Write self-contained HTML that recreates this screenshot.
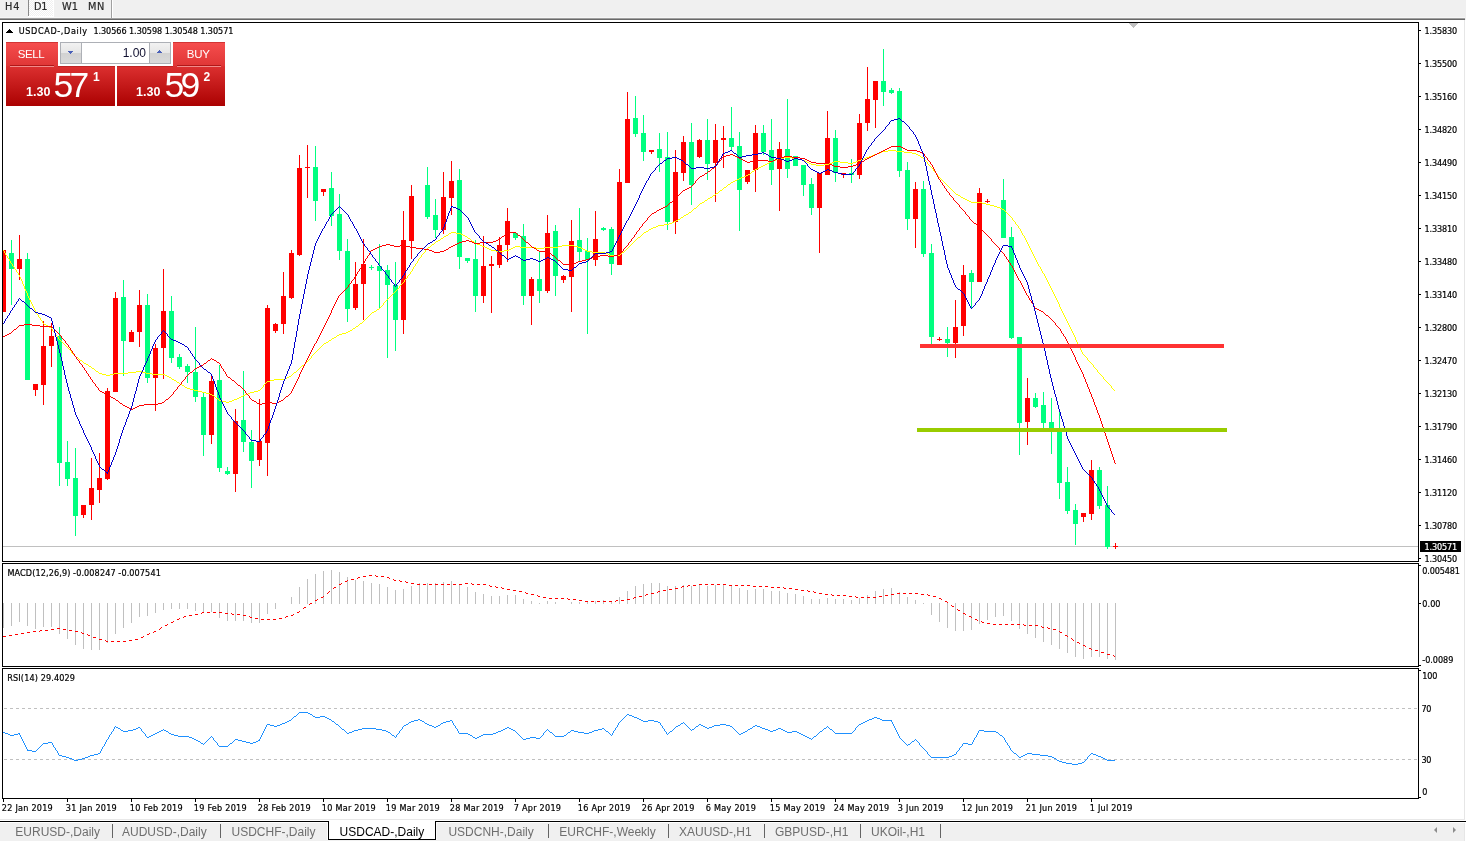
<!DOCTYPE html><html><head><meta charset="utf-8"><title>USDCAD Daily</title><style>

html,body{margin:0;padding:0}
body{width:1466px;height:842px;overflow:hidden;background:#fff;position:relative;font-family:"Liberation Sans",sans-serif}
.abs{position:absolute}
.t{-webkit-text-stroke:0.2px currentColor;position:absolute;font-family:"DejaVu Sans Condensed","DejaVu Sans","Liberation Sans",sans-serif;font-stretch:condensed;font-size:9px;line-height:10px;color:#000;white-space:nowrap}
.tab{position:absolute;font-size:12px;line-height:14px;color:#6e6e6e;white-space:nowrap;top:825px}
.sep{position:absolute;width:1px;height:14px;top:824px;background:#646464}
svg{position:absolute;left:0;top:0}
.tb{position:absolute;top:2px;font-size:9.5px;line-height:12px;color:#3c3c3c;white-space:nowrap}

</style></head><body>
<div class="abs" style="left:0;top:0;width:1466px;height:17px;background:#f0f0f0"></div>
<div class="abs" style="left:0;top:17px;width:1465px;height:1px;background:#f6f6f6"></div>
<div class="abs" style="left:0;top:18px;width:1465px;height:1px;background:#a0a0a0"></div>
<div class="abs" style="left:0;top:19px;width:1465px;height:1px;background:#696969"></div>
<div class="abs" style="left:1465px;top:17px;width:1px;height:3px;background:#f0f0f0"></div>
<div class="abs" style="left:28px;top:0;width:1px;height:16px;background:#8a8a8a"></div>
<div class="abs" style="left:29px;top:0;width:24px;height:16px;background:repeating-conic-gradient(#ffffff 0% 25%,#f0f0f0 0% 50%) 0 0/2px 2px"></div>
<div class="abs" style="left:53px;top:0;width:1px;height:17px;background:#fff"></div>
<div class="abs" style="left:28px;top:16px;width:25px;height:1px;background:#fff"></div>
<div class="abs" style="left:111px;top:0;width:1px;height:18px;background:#a0a0a0"></div>
<div class="abs" style="left:112px;top:0;width:1px;height:18px;background:#fff"></div>
<div class="abs" style="left:1464px;top:20px;width:1px;height:800px;background:#e6e6e6"></div>
<div class="abs" style="left:0;top:819px;width:1465px;height:1px;background:#e8e8e8"></div>
<div class="abs" style="left:0;top:821px;width:1466px;height:1px;background:#000"></div>
<div class="abs" style="left:0;top:823px;width:1465px;height:18px;background:#f0f0f0"></div>
<div class="abs" style="left:1464px;top:823px;width:1px;height:18px;background:#e6e6e6"></div>
<div class="abs" style="left:327px;top:822px;width:1px;height:18px;background:#fff"></div>
<div class="abs" style="left:436px;top:822px;width:1px;height:18px;background:#fafafa"></div>
<div class="abs" style="left:328px;top:821px;width:108px;height:19px;background:#fff;border:1px solid #000;border-top:none;box-sizing:border-box"></div>
<div class="tab" style="left:15.3px">EURUSD-,Daily</div>
<div class="tab" style="left:122px">AUDUSD-,Daily</div>
<div class="tab" style="left:231.5px">USDCHF-,Daily</div>
<div class="tab" style="left:448.4px">USDCNH-,Daily</div>
<div class="tab" style="left:559.3px">EURCHF-,Weekly</div>
<div class="tab" style="left:679px">XAUUSD-,H1</div>
<div class="tab" style="left:775px">GBPUSD-,H1</div>
<div class="tab" style="left:871px">UKOil-,H1</div>
<div class="tab" style="left:339.6px;color:#000">USDCAD-,Daily</div>
<div class="sep" style="left:112px"></div>
<div class="sep" style="left:220px"></div>
<div class="sep" style="left:548px"></div>
<div class="sep" style="left:668px"></div>
<div class="sep" style="left:764px"></div>
<div class="sep" style="left:860px"></div>
<div class="sep" style="left:940px"></div>
<div class="abs" style="left:1433.5px;top:827px;width:0;height:0;border-top:3px solid transparent;border-bottom:3px solid transparent;border-right:3.5px solid #8c8c8c"></div>
<div class="abs" style="left:1453px;top:827px;width:0;height:0;border-top:3px solid transparent;border-bottom:3px solid transparent;border-left:3.5px solid #8c8c8c"></div>
<svg width="1466" height="842" viewBox="0 0 1466 842" shape-rendering="crispEdges">
<rect x="2" y="22" width="1417" height="1" fill="#000"/>
<rect x="2" y="561" width="1417" height="1" fill="#000"/>
<rect x="2" y="22" width="1" height="540" fill="#000"/>
<rect x="1418" y="22" width="1" height="540" fill="#000"/>
<rect x="2" y="563" width="1417" height="1" fill="#000"/>
<rect x="2" y="666" width="1417" height="1" fill="#000"/>
<rect x="2" y="563" width="1" height="104" fill="#000"/>
<rect x="1418" y="563" width="1" height="104" fill="#000"/>
<rect x="2" y="668" width="1417" height="1" fill="#000"/>
<rect x="2" y="798" width="1417" height="1" fill="#000"/>
<rect x="2" y="668" width="1" height="131" fill="#000"/>
<rect x="1418" y="668" width="1" height="131" fill="#000"/>
<rect x="3" y="546" width="1415" height="1" fill="#c0c0c0"/>
<clipPath id="cm"><rect x="3" y="23" width="1415" height="538"/></clipPath>
<g clip-path="url(#cm)">
<rect x="3" y="250" width="1" height="62" fill="#ff0000"/>
<rect x="1" y="250" width="5" height="62" fill="#ff0000"/>
<rect x="11" y="240" width="1" height="65" fill="#00ff7f"/>
<rect x="9" y="253" width="5" height="16" fill="#00ff7f"/>
<rect x="19" y="235" width="1" height="45" fill="#ff0000"/>
<rect x="17" y="259" width="5" height="10" fill="#ff0000"/>
<rect x="27" y="253" width="1" height="127" fill="#00ff7f"/>
<rect x="25" y="259" width="5" height="121" fill="#00ff7f"/>
<rect x="35" y="384" width="1" height="12" fill="#ff0000"/>
<rect x="33" y="384" width="5" height="6" fill="#ff0000"/>
<rect x="43" y="321" width="1" height="84" fill="#ff0000"/>
<rect x="41" y="346" width="5" height="39" fill="#ff0000"/>
<rect x="51" y="323" width="1" height="44" fill="#ff0000"/>
<rect x="49" y="336" width="5" height="10" fill="#ff0000"/>
<rect x="59" y="327" width="1" height="159" fill="#00ff7f"/>
<rect x="57" y="336" width="5" height="127" fill="#00ff7f"/>
<rect x="67" y="441" width="1" height="45" fill="#00ff7f"/>
<rect x="65" y="462" width="5" height="17" fill="#00ff7f"/>
<rect x="75" y="448" width="1" height="88" fill="#00ff7f"/>
<rect x="73" y="478" width="5" height="38" fill="#00ff7f"/>
<rect x="83" y="505" width="1" height="13" fill="#ff0000"/>
<rect x="81" y="505" width="5" height="10" fill="#ff0000"/>
<rect x="91" y="458" width="1" height="62" fill="#ff0000"/>
<rect x="89" y="488" width="5" height="17" fill="#ff0000"/>
<rect x="99" y="453" width="1" height="50" fill="#ff0000"/>
<rect x="97" y="478" width="5" height="12" fill="#ff0000"/>
<rect x="107" y="388" width="1" height="92" fill="#ff0000"/>
<rect x="105" y="391" width="5" height="88" fill="#ff0000"/>
<rect x="115" y="292" width="1" height="100" fill="#ff0000"/>
<rect x="113" y="298" width="5" height="94" fill="#ff0000"/>
<rect x="123" y="280" width="1" height="96" fill="#00ff7f"/>
<rect x="121" y="297" width="5" height="44" fill="#00ff7f"/>
<rect x="131" y="330" width="1" height="12" fill="#ff0000"/>
<rect x="129" y="332" width="5" height="10" fill="#ff0000"/>
<rect x="139" y="290" width="1" height="57" fill="#ff0000"/>
<rect x="137" y="305" width="5" height="27" fill="#ff0000"/>
<rect x="147" y="294" width="1" height="89" fill="#00ff7f"/>
<rect x="145" y="305" width="5" height="73" fill="#00ff7f"/>
<rect x="155" y="344" width="1" height="67" fill="#ff0000"/>
<rect x="153" y="348" width="5" height="30" fill="#ff0000"/>
<rect x="163" y="269" width="1" height="110" fill="#ff0000"/>
<rect x="161" y="311" width="5" height="37" fill="#ff0000"/>
<rect x="171" y="296" width="1" height="67" fill="#00ff7f"/>
<rect x="169" y="311" width="5" height="47" fill="#00ff7f"/>
<rect x="179" y="354" width="1" height="15" fill="#00ff7f"/>
<rect x="177" y="357" width="5" height="10" fill="#00ff7f"/>
<rect x="187" y="364" width="1" height="19" fill="#00ff7f"/>
<rect x="185" y="366" width="5" height="6" fill="#00ff7f"/>
<rect x="195" y="327" width="1" height="75" fill="#00ff7f"/>
<rect x="193" y="372" width="5" height="25" fill="#00ff7f"/>
<rect x="203" y="393" width="1" height="63" fill="#00ff7f"/>
<rect x="201" y="397" width="5" height="38" fill="#00ff7f"/>
<rect x="211" y="374" width="1" height="70" fill="#ff0000"/>
<rect x="209" y="381" width="5" height="54" fill="#ff0000"/>
<rect x="219" y="365" width="1" height="107" fill="#00ff7f"/>
<rect x="217" y="380" width="5" height="88" fill="#00ff7f"/>
<rect x="227" y="467" width="1" height="8" fill="#00ff7f"/>
<rect x="225" y="471" width="5" height="3" fill="#00ff7f"/>
<rect x="235" y="409" width="1" height="83" fill="#ff0000"/>
<rect x="233" y="421" width="5" height="53" fill="#ff0000"/>
<rect x="243" y="371" width="1" height="81" fill="#00ff7f"/>
<rect x="241" y="420" width="5" height="22" fill="#00ff7f"/>
<rect x="251" y="430" width="1" height="58" fill="#00ff7f"/>
<rect x="249" y="442" width="5" height="19" fill="#00ff7f"/>
<rect x="259" y="399" width="1" height="67" fill="#ff0000"/>
<rect x="257" y="441" width="5" height="19" fill="#ff0000"/>
<rect x="267" y="305" width="1" height="171" fill="#ff0000"/>
<rect x="265" y="308" width="5" height="135" fill="#ff0000"/>
<rect x="275" y="323" width="1" height="10" fill="#ff0000"/>
<rect x="273" y="324" width="5" height="7" fill="#ff0000"/>
<rect x="283" y="272" width="1" height="62" fill="#ff0000"/>
<rect x="281" y="296" width="5" height="28" fill="#ff0000"/>
<rect x="291" y="250" width="1" height="49" fill="#ff0000"/>
<rect x="289" y="253" width="5" height="45" fill="#ff0000"/>
<rect x="299" y="155" width="1" height="101" fill="#ff0000"/>
<rect x="297" y="168" width="5" height="87" fill="#ff0000"/>
<rect x="307" y="145" width="1" height="53" fill="#ff0000"/>
<rect x="305" y="167" width="5" height="1" fill="#ff0000"/>
<rect x="315" y="146" width="1" height="75" fill="#00ff7f"/>
<rect x="313" y="167" width="5" height="34" fill="#00ff7f"/>
<rect x="323" y="189" width="1" height="7" fill="#ff0000"/>
<rect x="321" y="189" width="5" height="3" fill="#ff0000"/>
<rect x="331" y="172" width="1" height="54" fill="#00ff7f"/>
<rect x="329" y="188" width="5" height="28" fill="#00ff7f"/>
<rect x="339" y="194" width="1" height="66" fill="#00ff7f"/>
<rect x="337" y="214" width="5" height="37" fill="#00ff7f"/>
<rect x="347" y="239" width="1" height="83" fill="#00ff7f"/>
<rect x="345" y="251" width="5" height="58" fill="#00ff7f"/>
<rect x="355" y="262" width="1" height="48" fill="#ff0000"/>
<rect x="353" y="284" width="5" height="24" fill="#ff0000"/>
<rect x="363" y="239" width="1" height="81" fill="#ff0000"/>
<rect x="361" y="264" width="5" height="20" fill="#ff0000"/>
<rect x="371" y="265" width="1" height="5" fill="#00ff7f"/>
<rect x="369" y="267" width="5" height="1" fill="#00ff7f"/>
<rect x="379" y="244" width="1" height="64" fill="#00ff7f"/>
<rect x="377" y="266" width="5" height="5" fill="#00ff7f"/>
<rect x="387" y="265" width="1" height="93" fill="#00ff7f"/>
<rect x="385" y="270" width="5" height="15" fill="#00ff7f"/>
<rect x="395" y="262" width="1" height="89" fill="#00ff7f"/>
<rect x="393" y="285" width="5" height="35" fill="#00ff7f"/>
<rect x="403" y="211" width="1" height="123" fill="#ff0000"/>
<rect x="401" y="240" width="5" height="80" fill="#ff0000"/>
<rect x="411" y="185" width="1" height="74" fill="#ff0000"/>
<rect x="409" y="196" width="5" height="45" fill="#ff0000"/>
<rect x="427" y="167" width="1" height="52" fill="#00ff7f"/>
<rect x="425" y="185" width="5" height="32" fill="#00ff7f"/>
<rect x="435" y="199" width="1" height="39" fill="#00ff7f"/>
<rect x="433" y="215" width="5" height="15" fill="#00ff7f"/>
<rect x="443" y="172" width="1" height="62" fill="#ff0000"/>
<rect x="441" y="197" width="5" height="33" fill="#ff0000"/>
<rect x="451" y="161" width="1" height="54" fill="#ff0000"/>
<rect x="449" y="181" width="5" height="17" fill="#ff0000"/>
<rect x="459" y="169" width="1" height="100" fill="#00ff7f"/>
<rect x="457" y="180" width="5" height="77" fill="#00ff7f"/>
<rect x="467" y="258" width="1" height="5" fill="#00ff7f"/>
<rect x="465" y="258" width="5" height="3" fill="#00ff7f"/>
<rect x="475" y="240" width="1" height="72" fill="#00ff7f"/>
<rect x="473" y="259" width="5" height="37" fill="#00ff7f"/>
<rect x="483" y="236" width="1" height="67" fill="#ff0000"/>
<rect x="481" y="266" width="5" height="30" fill="#ff0000"/>
<rect x="491" y="256" width="1" height="57" fill="#ff0000"/>
<rect x="489" y="264" width="5" height="2" fill="#ff0000"/>
<rect x="499" y="237" width="1" height="31" fill="#ff0000"/>
<rect x="497" y="245" width="5" height="20" fill="#ff0000"/>
<rect x="507" y="208" width="1" height="54" fill="#ff0000"/>
<rect x="505" y="221" width="5" height="24" fill="#ff0000"/>
<rect x="515" y="232" width="1" height="8" fill="#00ff7f"/>
<rect x="513" y="233" width="5" height="5" fill="#00ff7f"/>
<rect x="523" y="224" width="1" height="81" fill="#00ff7f"/>
<rect x="521" y="236" width="5" height="60" fill="#00ff7f"/>
<rect x="531" y="277" width="1" height="48" fill="#ff0000"/>
<rect x="529" y="279" width="5" height="17" fill="#ff0000"/>
<rect x="539" y="251" width="1" height="52" fill="#00ff7f"/>
<rect x="537" y="279" width="5" height="12" fill="#00ff7f"/>
<rect x="547" y="215" width="1" height="78" fill="#ff0000"/>
<rect x="545" y="233" width="5" height="58" fill="#ff0000"/>
<rect x="555" y="225" width="1" height="71" fill="#00ff7f"/>
<rect x="553" y="231" width="5" height="45" fill="#00ff7f"/>
<rect x="563" y="275" width="1" height="8" fill="#ff0000"/>
<rect x="561" y="276" width="5" height="4" fill="#ff0000"/>
<rect x="571" y="220" width="1" height="92" fill="#ff0000"/>
<rect x="569" y="241" width="5" height="36" fill="#ff0000"/>
<rect x="579" y="208" width="1" height="53" fill="#00ff7f"/>
<rect x="577" y="240" width="5" height="12" fill="#00ff7f"/>
<rect x="587" y="238" width="1" height="96" fill="#00ff7f"/>
<rect x="585" y="251" width="5" height="9" fill="#00ff7f"/>
<rect x="595" y="211" width="1" height="55" fill="#ff0000"/>
<rect x="593" y="239" width="5" height="21" fill="#ff0000"/>
<rect x="603" y="227" width="1" height="4" fill="#00ff7f"/>
<rect x="601" y="228" width="5" height="2" fill="#00ff7f"/>
<rect x="611" y="227" width="1" height="48" fill="#00ff7f"/>
<rect x="609" y="229" width="5" height="35" fill="#00ff7f"/>
<rect x="619" y="169" width="1" height="96" fill="#ff0000"/>
<rect x="617" y="182" width="5" height="83" fill="#ff0000"/>
<rect x="627" y="92" width="1" height="91" fill="#ff0000"/>
<rect x="625" y="119" width="5" height="64" fill="#ff0000"/>
<rect x="635" y="96" width="1" height="41" fill="#00ff7f"/>
<rect x="633" y="118" width="5" height="16" fill="#00ff7f"/>
<rect x="643" y="115" width="1" height="46" fill="#00ff7f"/>
<rect x="641" y="133" width="5" height="19" fill="#00ff7f"/>
<rect x="651" y="150" width="1" height="4" fill="#ff0000"/>
<rect x="649" y="150" width="5" height="2" fill="#ff0000"/>
<rect x="659" y="133" width="1" height="39" fill="#00ff7f"/>
<rect x="657" y="149" width="5" height="9" fill="#00ff7f"/>
<rect x="667" y="132" width="1" height="98" fill="#00ff7f"/>
<rect x="665" y="157" width="5" height="65" fill="#00ff7f"/>
<rect x="675" y="150" width="1" height="84" fill="#ff0000"/>
<rect x="673" y="172" width="5" height="50" fill="#ff0000"/>
<rect x="683" y="136" width="1" height="45" fill="#ff0000"/>
<rect x="681" y="142" width="5" height="31" fill="#ff0000"/>
<rect x="691" y="123" width="1" height="82" fill="#00ff7f"/>
<rect x="689" y="142" width="5" height="43" fill="#00ff7f"/>
<rect x="699" y="139" width="1" height="19" fill="#ff0000"/>
<rect x="697" y="140" width="5" height="17" fill="#ff0000"/>
<rect x="707" y="119" width="1" height="61" fill="#00ff7f"/>
<rect x="705" y="140" width="5" height="24" fill="#00ff7f"/>
<rect x="715" y="124" width="1" height="78" fill="#ff0000"/>
<rect x="713" y="140" width="5" height="23" fill="#ff0000"/>
<rect x="723" y="126" width="1" height="42" fill="#ff0000"/>
<rect x="721" y="138" width="5" height="2" fill="#ff0000"/>
<rect x="731" y="107" width="1" height="44" fill="#00ff7f"/>
<rect x="729" y="138" width="5" height="9" fill="#00ff7f"/>
<rect x="739" y="132" width="1" height="99" fill="#00ff7f"/>
<rect x="737" y="146" width="5" height="44" fill="#00ff7f"/>
<rect x="747" y="170" width="1" height="14" fill="#ff0000"/>
<rect x="745" y="170" width="5" height="12" fill="#ff0000"/>
<rect x="755" y="125" width="1" height="67" fill="#ff0000"/>
<rect x="753" y="133" width="5" height="37" fill="#ff0000"/>
<rect x="763" y="125" width="1" height="30" fill="#00ff7f"/>
<rect x="761" y="133" width="5" height="19" fill="#00ff7f"/>
<rect x="771" y="119" width="1" height="66" fill="#00ff7f"/>
<rect x="769" y="150" width="5" height="20" fill="#00ff7f"/>
<rect x="779" y="142" width="1" height="69" fill="#ff0000"/>
<rect x="777" y="149" width="5" height="20" fill="#ff0000"/>
<rect x="787" y="99" width="1" height="79" fill="#00ff7f"/>
<rect x="785" y="149" width="5" height="20" fill="#00ff7f"/>
<rect x="795" y="156" width="1" height="10" fill="#00ff7f"/>
<rect x="793" y="156" width="5" height="10" fill="#00ff7f"/>
<rect x="803" y="165" width="1" height="31" fill="#00ff7f"/>
<rect x="801" y="165" width="5" height="20" fill="#00ff7f"/>
<rect x="811" y="178" width="1" height="37" fill="#00ff7f"/>
<rect x="809" y="184" width="5" height="24" fill="#00ff7f"/>
<rect x="819" y="173" width="1" height="80" fill="#ff0000"/>
<rect x="817" y="173" width="5" height="35" fill="#ff0000"/>
<rect x="827" y="111" width="1" height="64" fill="#ff0000"/>
<rect x="825" y="138" width="5" height="37" fill="#ff0000"/>
<rect x="835" y="130" width="1" height="52" fill="#00ff7f"/>
<rect x="833" y="138" width="5" height="35" fill="#00ff7f"/>
<rect x="843" y="173" width="1" height="5" fill="#ff0000"/>
<rect x="841" y="173" width="5" height="2" fill="#ff0000"/>
<rect x="851" y="159" width="1" height="24" fill="#00ff7f"/>
<rect x="849" y="173" width="5" height="2" fill="#00ff7f"/>
<rect x="859" y="114" width="1" height="65" fill="#ff0000"/>
<rect x="857" y="123" width="5" height="52" fill="#ff0000"/>
<rect x="867" y="67" width="1" height="64" fill="#ff0000"/>
<rect x="865" y="99" width="5" height="24" fill="#ff0000"/>
<rect x="875" y="81" width="1" height="47" fill="#ff0000"/>
<rect x="873" y="81" width="5" height="19" fill="#ff0000"/>
<rect x="883" y="49" width="1" height="57" fill="#00ff7f"/>
<rect x="881" y="81" width="5" height="11" fill="#00ff7f"/>
<rect x="891" y="88" width="1" height="6" fill="#00ff7f"/>
<rect x="889" y="90" width="5" height="3" fill="#00ff7f"/>
<rect x="899" y="88" width="1" height="89" fill="#00ff7f"/>
<rect x="897" y="91" width="5" height="80" fill="#00ff7f"/>
<rect x="907" y="162" width="1" height="68" fill="#00ff7f"/>
<rect x="905" y="170" width="5" height="49" fill="#00ff7f"/>
<rect x="915" y="182" width="1" height="66" fill="#ff0000"/>
<rect x="913" y="189" width="5" height="30" fill="#ff0000"/>
<rect x="923" y="181" width="1" height="76" fill="#00ff7f"/>
<rect x="921" y="189" width="5" height="65" fill="#00ff7f"/>
<rect x="931" y="244" width="1" height="100" fill="#00ff7f"/>
<rect x="929" y="253" width="5" height="84" fill="#00ff7f"/>
<rect x="939" y="337" width="1" height="4" fill="#ff0000"/>
<rect x="937" y="339" width="5" height="1" fill="#ff0000"/>
<rect x="947" y="327" width="1" height="30" fill="#00ff7f"/>
<rect x="945" y="339" width="5" height="4" fill="#00ff7f"/>
<rect x="955" y="300" width="1" height="58" fill="#ff0000"/>
<rect x="953" y="327" width="5" height="16" fill="#ff0000"/>
<rect x="963" y="265" width="1" height="71" fill="#ff0000"/>
<rect x="961" y="275" width="5" height="51" fill="#ff0000"/>
<rect x="971" y="270" width="1" height="38" fill="#00ff7f"/>
<rect x="969" y="273" width="5" height="9" fill="#00ff7f"/>
<rect x="979" y="188" width="1" height="94" fill="#ff0000"/>
<rect x="977" y="193" width="5" height="89" fill="#ff0000"/>
<rect x="987" y="199" width="1" height="4" fill="#ff0000"/>
<rect x="985" y="201" width="5" height="1" fill="#ff0000"/>
<rect x="1003" y="179" width="1" height="59" fill="#00ff7f"/>
<rect x="1001" y="200" width="5" height="38" fill="#00ff7f"/>
<rect x="1011" y="227" width="1" height="112" fill="#00ff7f"/>
<rect x="1009" y="237" width="5" height="101" fill="#00ff7f"/>
<rect x="1019" y="337" width="1" height="118" fill="#00ff7f"/>
<rect x="1017" y="337" width="5" height="86" fill="#00ff7f"/>
<rect x="1027" y="378" width="1" height="67" fill="#ff0000"/>
<rect x="1025" y="398" width="5" height="24" fill="#ff0000"/>
<rect x="1035" y="393" width="1" height="15" fill="#00ff7f"/>
<rect x="1033" y="398" width="5" height="9" fill="#00ff7f"/>
<rect x="1043" y="392" width="1" height="36" fill="#00ff7f"/>
<rect x="1041" y="405" width="5" height="18" fill="#00ff7f"/>
<rect x="1051" y="398" width="1" height="56" fill="#00ff7f"/>
<rect x="1049" y="422" width="5" height="8" fill="#00ff7f"/>
<rect x="1059" y="411" width="1" height="88" fill="#00ff7f"/>
<rect x="1057" y="430" width="5" height="53" fill="#00ff7f"/>
<rect x="1067" y="467" width="1" height="47" fill="#00ff7f"/>
<rect x="1065" y="482" width="5" height="29" fill="#00ff7f"/>
<rect x="1075" y="504" width="1" height="41" fill="#00ff7f"/>
<rect x="1073" y="510" width="5" height="14" fill="#00ff7f"/>
<rect x="1083" y="513" width="1" height="9" fill="#ff0000"/>
<rect x="1081" y="513" width="5" height="4" fill="#ff0000"/>
<rect x="1091" y="460" width="1" height="60" fill="#ff0000"/>
<rect x="1089" y="470" width="5" height="44" fill="#ff0000"/>
<rect x="1099" y="467" width="1" height="42" fill="#00ff7f"/>
<rect x="1097" y="470" width="5" height="36" fill="#00ff7f"/>
<rect x="1107" y="486" width="1" height="63" fill="#00ff7f"/>
<rect x="1105" y="505" width="5" height="42" fill="#00ff7f"/>
<rect x="1115" y="543" width="1" height="6" fill="#ff0000"/>
<rect x="1113" y="546" width="5" height="1" fill="#ff0000"/>
<path d="M888 150h8v1h-8zM882 151h6v1h-6zM896 151h8v1h-8zM880 152h2v1h-2zM904 152h8v1h-8zM877 153h3v1h-3zM912 153h4v1h-4zM874 154h3v1h-3zM916 154h2v1h-2zM872 155h2v1h-2zM918 155h2v1h-2zM869 156h3v1h-3zM920 156h1v1h-1zM784 157h8v1h-8zM866 157h3v1h-3zM921 157h2v1h-2zM778 158h6v1h-6zM792 158h6v1h-6zM864 158h2v1h-2zM923 158h1v1h-1zM776 159h2v1h-2zM798 159h4v1h-4zM861 159h3v1h-3zM924 159h1v1h-1zM773 160h3v1h-3zM802 160h3v1h-3zM858 160h3v1h-3zM925 160h1v1h-1zM771 161h2v1h-2zM805 161h2v1h-2zM834 161h6v1h-6zM856 161h2v1h-2zM926 161h1v1h-1zM769 162h2v1h-2zM807 162h2v1h-2zM832 162h2v1h-2zM840 162h8v1h-8zM853 162h3v1h-3zM927 162h1v2h-1zM767 163h2v1h-2zM809 163h2v1h-2zM829 163h3v1h-3zM848 163h5v1h-5zM765 164h2v1h-2zM811 164h5v1h-5zM824 164h5v1h-5zM928 164h1v1h-1zM763 165h2v1h-2zM816 165h8v1h-8zM929 165h1v1h-1zM761 166h2v1h-2zM930 166h1v1h-1zM759 167h2v1h-2zM931 167h1v1h-1zM757 168h2v1h-2zM932 168h1v1h-1zM755 169h2v1h-2zM933 169h1v2h-1zM754 170h1v1h-1zM752 171h2v1h-2zM934 171h1v1h-1zM751 172h1v1h-1zM935 172h1v1h-1zM750 173h1v1h-1zM936 173h1v1h-1zM748 174h2v1h-2zM937 174h1v2h-1zM746 175h2v1h-2zM744 176h2v1h-2zM938 176h1v1h-1zM741 177h3v1h-3zM939 177h1v1h-1zM739 178h2v1h-2zM940 178h1v1h-1zM737 179h2v1h-2zM941 179h1v1h-1zM735 180h2v1h-2zM942 180h1v1h-1zM733 181h2v1h-2zM943 181h1v1h-1zM731 182h2v1h-2zM944 182h1v1h-1zM730 183h1v1h-1zM945 183h1v1h-1zM728 184h2v1h-2zM946 184h1v1h-1zM727 185h1v1h-1zM947 185h1v1h-1zM726 186h1v1h-1zM948 186h1v1h-1zM724 187h2v1h-2zM949 187h1v1h-1zM723 188h1v1h-1zM950 188h1v1h-1zM722 189h1v1h-1zM951 189h1v1h-1zM720 190h2v1h-2zM952 190h1v1h-1zM719 191h1v1h-1zM953 191h1v1h-1zM718 192h1v1h-1zM954 192h1v1h-1zM716 193h2v1h-2zM955 193h1v1h-1zM715 194h1v1h-1zM956 194h2v1h-2zM713 195h2v1h-2zM958 195h2v1h-2zM712 196h1v1h-1zM960 196h1v1h-1zM710 197h2v1h-2zM961 197h2v1h-2zM708 198h2v1h-2zM963 198h2v1h-2zM707 199h1v1h-1zM965 199h2v1h-2zM705 200h2v1h-2zM967 200h2v1h-2zM704 201h1v1h-1zM969 201h2v1h-2zM702 202h2v1h-2zM971 202h11v1h-11zM700 203h2v1h-2zM982 203h4v1h-4zM699 204h1v1h-1zM986 204h4v1h-4zM698 205h1v1h-1zM990 205h4v1h-4zM697 206h1v1h-1zM994 206h3v1h-3zM696 207h1v1h-1zM997 207h3v1h-3zM694 208h2v1h-2zM1000 208h2v1h-2zM693 209h1v1h-1zM1002 209h2v1h-2zM692 210h1v1h-1zM1004 210h1v1h-1zM691 211h1v1h-1zM1005 211h1v1h-1zM689 212h2v1h-2zM1006 212h1v1h-1zM688 213h1v1h-1zM1007 213h1v1h-1zM686 214h2v1h-2zM1008 214h1v1h-1zM684 215h2v1h-2zM1009 215h1v1h-1zM683 216h1v1h-1zM1010 216h1v1h-1zM681 217h2v1h-2zM1011 217h1v1h-1zM680 218h1v1h-1zM1012 218h1v2h-1zM678 219h2v1h-2zM676 220h2v1h-2zM1013 220h1v1h-1zM674 221h2v1h-2zM1014 221h1v1h-1zM672 222h2v1h-2zM1015 222h1v2h-1zM669 223h3v1h-3zM664 224h5v1h-5zM1016 224h1v1h-1zM658 225h6v1h-6zM1017 225h1v1h-1zM656 226h2v1h-2zM1018 226h1v2h-1zM653 227h3v1h-3zM651 228h2v1h-2zM1019 228h1v1h-1zM649 229h2v1h-2zM1020 229h1v2h-1zM648 230h1v1h-1zM646 231h2v1h-2zM1021 231h1v2h-1zM451 232h5v1h-5zM644 232h2v1h-2zM449 233h2v1h-2zM456 233h5v1h-5zM643 233h1v1h-1zM1022 233h1v2h-1zM448 234h1v1h-1zM461 234h2v1h-2zM642 234h1v1h-1zM446 235h2v1h-2zM463 235h2v1h-2zM641 235h1v1h-1zM1023 235h1v1h-1zM444 236h2v1h-2zM465 236h2v1h-2zM640 236h1v1h-1zM1024 236h1v2h-1zM443 237h1v1h-1zM467 237h1v1h-1zM638 237h2v1h-2zM441 238h2v1h-2zM468 238h2v1h-2zM637 238h1v1h-1zM1025 238h1v2h-1zM440 239h1v1h-1zM470 239h1v1h-1zM636 239h1v1h-1zM438 240h2v1h-2zM471 240h1v1h-1zM635 240h1v1h-1zM1026 240h1v2h-1zM436 241h2v1h-2zM472 241h2v1h-2zM634 241h1v1h-1zM435 242h1v1h-1zM474 242h1v1h-1zM633 242h1v1h-1zM1027 242h1v2h-1zM434 243h1v1h-1zM475 243h2v1h-2zM632 243h1v1h-1zM432 244h2v1h-2zM477 244h3v1h-3zM631 244h1v1h-1zM1028 244h1v2h-1zM431 245h1v1h-1zM480 245h2v1h-2zM562 245h12v1h-12zM630 245h1v1h-1zM430 246h1v1h-1zM482 246h3v1h-3zM515 246h5v1h-5zM558 246h4v1h-4zM574 246h4v1h-4zM629 246h1v1h-1zM1029 246h1v2h-1zM428 247h2v1h-2zM485 247h2v1h-2zM513 247h2v1h-2zM520 247h16v1h-16zM544 247h14v1h-14zM578 247h3v1h-3zM628 247h1v1h-1zM427 248h1v1h-1zM487 248h2v1h-2zM511 248h2v1h-2zM536 248h8v1h-8zM581 248h2v1h-2zM627 248h1v1h-1zM1030 248h1v2h-1zM426 249h1v1h-1zM489 249h2v1h-2zM509 249h2v1h-2zM583 249h2v1h-2zM626 249h1v1h-1zM3 250h1v1h-1zM425 250h1v2h-1zM491 250h5v1h-5zM504 250h5v1h-5zM585 250h2v1h-2zM625 250h1v1h-1zM1031 250h1v2h-1zM4 251h1v2h-1zM496 251h8v1h-8zM587 251h5v1h-5zM624 251h1v1h-1zM424 252h1v1h-1zM592 252h13v1h-13zM622 252h2v1h-2zM1032 252h1v2h-1zM5 253h1v2h-1zM423 253h1v1h-1zM605 253h3v1h-3zM621 253h1v1h-1zM422 254h1v1h-1zM608 254h2v1h-2zM620 254h1v1h-1zM1033 254h1v2h-1zM6 255h1v1h-1zM421 255h1v2h-1zM610 255h10v1h-10zM7 256h1v2h-1zM1034 256h1v2h-1zM420 257h1v1h-1zM8 258h1v1h-1zM419 258h1v1h-1zM1035 258h1v2h-1zM9 259h1v2h-1zM418 259h1v2h-1zM1036 260h1v2h-1zM10 261h1v2h-1zM417 261h1v2h-1zM1037 262h1v2h-1zM11 263h1v1h-1zM416 263h1v1h-1zM12 264h1v2h-1zM415 264h1v2h-1zM1038 264h1v2h-1zM13 266h1v1h-1zM414 266h1v1h-1zM1039 266h1v1h-1zM14 267h1v2h-1zM413 267h1v2h-1zM1040 267h1v2h-1zM15 269h1v1h-1zM412 269h1v2h-1zM1041 269h1v2h-1zM16 270h1v2h-1zM411 271h1v1h-1zM1042 271h1v2h-1zM17 272h1v1h-1zM410 272h1v2h-1zM18 273h1v2h-1zM1043 273h1v1h-1zM409 274h1v1h-1zM1044 274h1v2h-1zM19 275h1v2h-1zM408 275h1v1h-1zM407 276h1v2h-1zM1045 276h1v2h-1zM20 277h1v2h-1zM406 278h1v1h-1zM1046 278h1v2h-1zM21 279h1v2h-1zM405 279h1v1h-1zM404 280h1v2h-1zM1047 280h1v2h-1zM22 281h1v3h-1zM403 282h1v1h-1zM1048 282h1v2h-1zM402 283h1v1h-1zM23 284h1v2h-1zM401 284h1v1h-1zM1049 284h1v2h-1zM400 285h1v1h-1zM24 286h1v3h-1zM399 286h1v2h-1zM1050 286h1v2h-1zM398 288h1v1h-1zM1051 288h1v2h-1zM25 289h1v2h-1zM397 289h1v1h-1zM396 290h1v1h-1zM1052 290h1v2h-1zM26 291h1v2h-1zM395 291h1v1h-1zM394 292h1v1h-1zM1053 292h1v2h-1zM27 293h1v3h-1zM393 293h1v1h-1zM392 294h1v1h-1zM1054 294h1v2h-1zM391 295h1v1h-1zM28 296h1v2h-1zM390 296h1v1h-1zM1055 296h1v2h-1zM389 297h1v1h-1zM29 298h1v2h-1zM388 298h1v1h-1zM1056 298h1v2h-1zM387 299h1v1h-1zM30 300h1v2h-1zM386 300h1v1h-1zM1057 300h1v2h-1zM385 301h1v1h-1zM31 302h1v2h-1zM384 302h1v1h-1zM1058 302h1v2h-1zM383 303h1v2h-1zM32 304h1v2h-1zM1059 304h1v3h-1zM382 305h1v1h-1zM33 306h1v2h-1zM381 306h1v1h-1zM380 307h1v1h-1zM1060 307h1v2h-1zM34 308h1v2h-1zM379 308h1v1h-1zM377 309h2v1h-2zM1061 309h1v2h-1zM35 310h1v2h-1zM376 310h1v1h-1zM374 311h2v1h-2zM1062 311h1v2h-1zM36 312h1v2h-1zM372 312h2v1h-2zM371 313h1v1h-1zM1063 313h1v2h-1zM37 314h1v1h-1zM370 314h1v1h-1zM38 315h1v2h-1zM369 315h1v1h-1zM1064 315h1v2h-1zM368 316h1v1h-1zM39 317h1v1h-1zM367 317h1v1h-1zM1065 317h1v2h-1zM40 318h1v2h-1zM366 318h1v1h-1zM365 319h1v1h-1zM1066 319h1v2h-1zM41 320h1v1h-1zM364 320h1v1h-1zM42 321h1v2h-1zM363 321h1v1h-1zM1067 321h1v2h-1zM362 322h1v1h-1zM43 323h1v1h-1zM360 323h2v1h-2zM1068 323h1v2h-1zM44 324h2v1h-2zM359 324h1v1h-1zM46 325h2v1h-2zM358 325h1v1h-1zM1069 325h1v2h-1zM48 326h1v1h-1zM356 326h2v1h-2zM49 327h2v1h-2zM355 327h1v1h-1zM1070 327h1v2h-1zM51 328h1v1h-1zM353 328h2v1h-2zM52 329h1v2h-1zM352 329h1v1h-1zM1071 329h1v2h-1zM350 330h2v1h-2zM53 331h1v1h-1zM348 331h2v1h-2zM1072 331h1v2h-1zM54 332h1v1h-1zM346 332h2v1h-2zM55 333h1v2h-1zM342 333h4v1h-4zM1073 333h1v2h-1zM339 334h3v1h-3zM56 335h1v1h-1zM337 335h2v1h-2zM1074 335h1v2h-1zM57 336h1v1h-1zM336 336h1v1h-1zM58 337h1v2h-1zM334 337h2v1h-2zM1075 337h1v3h-1zM332 338h2v1h-2zM59 339h1v1h-1zM331 339h1v1h-1zM60 340h1v1h-1zM329 340h2v1h-2zM1076 340h1v2h-1zM61 341h1v1h-1zM328 341h1v1h-1zM62 342h1v1h-1zM326 342h2v1h-2zM1077 342h1v2h-1zM63 343h1v1h-1zM324 343h2v1h-2zM64 344h1v1h-1zM323 344h1v1h-1zM1078 344h1v2h-1zM65 345h1v1h-1zM322 345h1v1h-1zM66 346h1v1h-1zM321 346h1v1h-1zM1079 346h1v2h-1zM67 347h1v1h-1zM320 347h1v1h-1zM68 348h1v1h-1zM319 348h1v1h-1zM1080 348h1v2h-1zM69 349h1v1h-1zM318 349h1v1h-1zM70 350h1v1h-1zM317 350h1v1h-1zM1081 350h1v2h-1zM71 351h1v2h-1zM316 351h1v1h-1zM315 352h1v1h-1zM1082 352h1v2h-1zM72 353h1v1h-1zM314 353h1v1h-1zM73 354h1v1h-1zM313 354h1v1h-1zM1083 354h1v1h-1zM74 355h1v1h-1zM312 355h1v1h-1zM1084 355h1v1h-1zM75 356h1v1h-1zM311 356h1v2h-1zM1085 356h1v1h-1zM76 357h2v1h-2zM1086 357h1v1h-1zM78 358h1v1h-1zM310 358h1v1h-1zM1087 358h1v2h-1zM79 359h1v1h-1zM309 359h1v1h-1zM80 360h2v1h-2zM308 360h1v1h-1zM1088 360h1v1h-1zM82 361h1v1h-1zM307 361h1v1h-1zM1089 361h1v1h-1zM83 362h1v1h-1zM306 362h1v1h-1zM1090 362h1v1h-1zM84 363h2v1h-2zM305 363h1v1h-1zM1091 363h1v1h-1zM86 364h2v1h-2zM304 364h1v1h-1zM1092 364h1v1h-1zM88 365h1v1h-1zM302 365h2v1h-2zM1093 365h1v2h-1zM89 366h2v1h-2zM301 366h1v1h-1zM91 367h1v1h-1zM300 367h1v1h-1zM1094 367h1v1h-1zM92 368h2v1h-2zM299 368h1v1h-1zM1095 368h1v1h-1zM94 369h1v1h-1zM298 369h1v1h-1zM1096 369h1v1h-1zM95 370h1v1h-1zM297 370h1v1h-1zM1097 370h1v2h-1zM96 371h2v1h-2zM136 371h6v1h-6zM296 371h1v1h-1zM98 372h1v1h-1zM128 372h8v1h-8zM142 372h4v1h-4zM294 372h2v1h-2zM1098 372h1v1h-1zM99 373h3v1h-3zM114 373h14v1h-14zM146 373h6v1h-6zM293 373h1v1h-1zM1099 373h1v1h-1zM102 374h4v1h-4zM110 374h4v1h-4zM152 374h13v1h-13zM292 374h1v1h-1zM1100 374h1v1h-1zM106 375h4v1h-4zM165 375h2v1h-2zM291 375h1v1h-1zM1101 375h1v1h-1zM167 376h2v1h-2zM289 376h2v1h-2zM1102 376h1v1h-1zM169 377h2v1h-2zM287 377h2v1h-2zM1103 377h1v2h-1zM171 378h1v1h-1zM285 378h2v1h-2zM172 379h2v1h-2zM274 379h11v1h-11zM1104 379h1v1h-1zM174 380h2v1h-2zM270 380h4v1h-4zM1105 380h1v1h-1zM176 381h1v1h-1zM267 381h3v1h-3zM1106 381h1v1h-1zM177 382h2v1h-2zM266 382h1v1h-1zM1107 382h1v1h-1zM179 383h1v1h-1zM265 383h1v1h-1zM1108 383h1v1h-1zM180 384h2v1h-2zM264 384h1v1h-1zM1109 384h1v1h-1zM182 385h2v1h-2zM263 385h1v2h-1zM1110 385h1v1h-1zM184 386h1v1h-1zM1111 386h1v2h-1zM185 387h2v1h-2zM262 387h1v1h-1zM187 388h3v1h-3zM261 388h1v1h-1zM1112 388h1v1h-1zM190 389h4v1h-4zM260 389h1v1h-1zM1113 389h1v1h-1zM194 390h4v1h-4zM258 390h2v1h-2zM1114 390h1v1h-1zM198 391h4v1h-4zM254 391h4v1h-4zM202 392h4v1h-4zM250 392h4v1h-4zM206 393h4v1h-4zM248 393h2v1h-2zM210 394h2v1h-2zM245 394h3v1h-3zM212 395h2v1h-2zM243 395h2v1h-2zM214 396h1v1h-1zM241 396h2v1h-2zM215 397h1v1h-1zM239 397h2v1h-2zM216 398h2v1h-2zM237 398h2v1h-2zM218 399h1v1h-1zM234 399h3v1h-3zM219 400h3v1h-3zM232 400h2v1h-2zM222 401h4v1h-4zM229 401h3v1h-3zM226 402h3v1h-3z" fill="#ffff00"/>
<path d="M891 146h10v1h-10zM889 147h2v1h-2zM901 147h2v1h-2zM887 148h2v1h-2zM903 148h2v1h-2zM885 149h2v1h-2zM905 149h2v1h-2zM883 150h2v1h-2zM907 150h10v1h-10zM881 151h2v1h-2zM917 151h3v1h-3zM879 152h2v1h-2zM920 152h2v1h-2zM877 153h2v1h-2zM922 153h2v1h-2zM730 154h3v1h-3zM875 154h2v1h-2zM924 154h1v2h-1zM726 155h4v1h-4zM733 155h2v1h-2zM873 155h2v1h-2zM723 156h3v1h-3zM735 156h2v1h-2zM784 156h8v1h-8zM871 156h2v1h-2zM925 156h1v1h-1zM722 157h1v1h-1zM737 157h2v1h-2zM779 157h5v1h-5zM792 157h8v1h-8zM869 157h2v1h-2zM926 157h1v1h-1zM721 158h1v2h-1zM739 158h2v1h-2zM777 158h2v1h-2zM800 158h5v1h-5zM867 158h2v1h-2zM927 158h1v2h-1zM741 159h2v1h-2zM775 159h2v1h-2zM805 159h2v1h-2zM865 159h2v1h-2zM720 160h1v1h-1zM743 160h2v1h-2zM754 160h14v1h-14zM773 160h2v1h-2zM807 160h2v1h-2zM864 160h1v1h-1zM928 160h1v1h-1zM719 161h1v1h-1zM745 161h2v1h-2zM750 161h4v1h-4zM768 161h5v1h-5zM809 161h2v1h-2zM862 161h2v1h-2zM929 161h1v1h-1zM718 162h1v1h-1zM747 162h3v1h-3zM811 162h5v1h-5zM860 162h2v1h-2zM930 162h1v2h-1zM717 163h1v2h-1zM816 163h13v1h-13zM858 163h2v1h-2zM829 164h3v1h-3zM856 164h2v1h-2zM931 164h1v1h-1zM716 165h1v1h-1zM832 165h2v1h-2zM853 165h3v1h-3zM932 165h1v2h-1zM715 166h1v1h-1zM834 166h6v1h-6zM848 166h5v1h-5zM714 167h1v1h-1zM840 167h8v1h-8zM933 167h1v2h-1zM712 168h2v1h-2zM711 169h1v1h-1zM934 169h1v2h-1zM710 170h1v1h-1zM708 171h2v1h-2zM935 171h1v2h-1zM707 172h1v1h-1zM705 173h2v1h-2zM936 173h1v2h-1zM704 174h1v1h-1zM702 175h2v1h-2zM937 175h1v2h-1zM700 176h2v1h-2zM699 177h1v1h-1zM938 177h1v2h-1zM698 178h1v1h-1zM697 179h1v1h-1zM939 179h1v1h-1zM696 180h1v1h-1zM940 180h1v2h-1zM695 181h1v2h-1zM941 182h1v1h-1zM694 183h1v1h-1zM942 183h1v2h-1zM693 184h1v1h-1zM692 185h1v1h-1zM943 185h1v1h-1zM691 186h1v1h-1zM944 186h1v2h-1zM689 187h2v1h-2zM687 188h2v1h-2zM945 188h1v1h-1zM685 189h2v1h-2zM946 189h1v2h-1zM683 190h2v1h-2zM682 191h1v1h-1zM947 191h1v1h-1zM681 192h1v1h-1zM948 192h1v1h-1zM680 193h1v1h-1zM949 193h1v2h-1zM679 194h1v1h-1zM678 195h1v1h-1zM950 195h1v1h-1zM677 196h1v1h-1zM951 196h1v1h-1zM676 197h1v1h-1zM952 197h1v1h-1zM675 198h1v1h-1zM953 198h1v2h-1zM674 199h1v1h-1zM673 200h1v1h-1zM954 200h1v1h-1zM672 201h1v1h-1zM955 201h1v1h-1zM670 202h2v1h-2zM956 202h1v1h-1zM669 203h1v1h-1zM957 203h1v1h-1zM668 204h1v1h-1zM958 204h1v1h-1zM667 205h1v1h-1zM959 205h1v2h-1zM665 206h2v1h-2zM663 207h2v1h-2zM960 207h1v1h-1zM661 208h2v1h-2zM961 208h1v1h-1zM659 209h2v1h-2zM962 209h1v1h-1zM657 210h2v1h-2zM963 210h1v1h-1zM656 211h1v1h-1zM964 211h1v1h-1zM654 212h2v1h-2zM965 212h1v2h-1zM652 213h2v1h-2zM651 214h1v1h-1zM966 214h1v1h-1zM650 215h1v1h-1zM967 215h1v1h-1zM649 216h1v1h-1zM968 216h1v1h-1zM648 217h1v1h-1zM969 217h1v2h-1zM647 218h1v2h-1zM970 219h1v1h-1zM646 220h1v1h-1zM971 220h1v1h-1zM645 221h1v1h-1zM972 221h1v1h-1zM644 222h1v1h-1zM973 222h1v1h-1zM643 223h1v1h-1zM974 223h2v1h-2zM642 224h1v2h-1zM976 224h1v1h-1zM977 225h1v1h-1zM641 226h1v1h-1zM978 226h1v1h-1zM640 227h1v1h-1zM979 227h1v1h-1zM639 228h1v2h-1zM980 228h1v1h-1zM981 229h1v1h-1zM638 230h1v1h-1zM982 230h1v1h-1zM637 231h1v1h-1zM983 231h1v1h-1zM507 232h9v1h-9zM636 232h1v2h-1zM984 232h1v1h-1zM506 233h1v1h-1zM516 233h1v1h-1zM985 233h1v1h-1zM505 234h1v1h-1zM517 234h1v1h-1zM635 234h1v1h-1zM986 234h1v1h-1zM504 235h1v1h-1zM518 235h2v1h-2zM634 235h1v2h-1zM987 235h1v1h-1zM502 236h2v1h-2zM520 236h1v1h-1zM988 236h1v1h-1zM501 237h1v1h-1zM521 237h1v1h-1zM633 237h1v1h-1zM989 237h1v1h-1zM500 238h1v1h-1zM522 238h1v1h-1zM632 238h1v1h-1zM990 238h1v1h-1zM498 239h2v1h-2zM523 239h1v1h-1zM631 239h1v2h-1zM991 239h1v2h-1zM466 240h3v1h-3zM496 240h2v1h-2zM524 240h1v1h-1zM462 241h4v1h-4zM469 241h3v1h-3zM493 241h3v1h-3zM525 241h1v1h-1zM630 241h1v1h-1zM992 241h1v1h-1zM459 242h3v1h-3zM472 242h2v1h-2zM480 242h13v1h-13zM526 242h2v1h-2zM629 242h1v1h-1zM993 242h1v1h-1zM457 243h2v1h-2zM474 243h6v1h-6zM528 243h1v1h-1zM628 243h1v2h-1zM994 243h1v1h-1zM386 244h4v1h-4zM455 244h2v1h-2zM529 244h1v1h-1zM995 244h1v1h-1zM382 245h4v1h-4zM390 245h4v1h-4zM400 245h6v1h-6zM453 245h2v1h-2zM530 245h1v1h-1zM627 245h1v1h-1zM996 245h1v1h-1zM379 246h3v1h-3zM394 246h6v1h-6zM406 246h4v1h-4zM451 246h2v1h-2zM531 246h1v1h-1zM626 246h1v1h-1zM997 246h1v1h-1zM377 247h2v1h-2zM410 247h6v1h-6zM449 247h2v1h-2zM532 247h2v1h-2zM625 247h1v1h-1zM998 247h1v1h-1zM375 248h2v1h-2zM416 248h8v1h-8zM448 248h1v1h-1zM534 248h2v1h-2zM624 248h1v1h-1zM999 248h1v2h-1zM373 249h2v1h-2zM424 249h5v1h-5zM446 249h2v1h-2zM536 249h1v1h-1zM623 249h1v2h-1zM371 250h2v1h-2zM429 250h3v1h-3zM444 250h2v1h-2zM537 250h2v1h-2zM1000 250h1v1h-1zM370 251h1v2h-1zM432 251h2v1h-2zM440 251h4v1h-4zM539 251h9v1h-9zM622 251h1v1h-1zM1001 251h1v1h-1zM434 252h6v1h-6zM548 252h2v1h-2zM621 252h1v1h-1zM1002 252h1v1h-1zM369 253h1v2h-1zM550 253h1v1h-1zM620 253h1v1h-1zM1003 253h1v1h-1zM551 254h1v1h-1zM618 254h2v1h-2zM1004 254h1v2h-1zM368 255h1v1h-1zM552 255h2v1h-2zM600 255h8v1h-8zM614 255h4v1h-4zM367 256h1v2h-1zM554 256h1v1h-1zM594 256h6v1h-6zM608 256h6v1h-6zM1005 256h1v1h-1zM555 257h1v1h-1zM592 257h2v1h-2zM1006 257h1v2h-1zM366 258h1v1h-1zM556 258h1v1h-1zM589 258h3v1h-3zM365 259h1v2h-1zM557 259h1v1h-1zM586 259h3v1h-3zM1007 259h1v1h-1zM558 260h2v1h-2zM582 260h4v1h-4zM1008 260h1v2h-1zM364 261h1v2h-1zM560 261h1v1h-1zM578 261h4v1h-4zM561 262h1v1h-1zM576 262h2v1h-2zM1009 262h1v1h-1zM363 263h1v1h-1zM562 263h1v1h-1zM573 263h3v1h-3zM1010 263h1v2h-1zM362 264h1v2h-1zM563 264h10v1h-10zM1011 265h1v1h-1zM361 266h1v2h-1zM1012 266h1v2h-1zM360 268h1v1h-1zM1013 268h1v2h-1zM359 269h1v2h-1zM1014 270h1v2h-1zM358 271h1v1h-1zM357 272h1v2h-1zM1015 272h1v2h-1zM356 274h1v2h-1zM1016 274h1v2h-1zM355 276h1v1h-1zM1017 276h1v2h-1zM354 277h1v2h-1zM1018 278h1v2h-1zM353 279h1v1h-1zM352 280h1v1h-1zM1019 280h1v1h-1zM351 281h1v2h-1zM1020 281h1v2h-1zM350 283h1v1h-1zM1021 283h1v2h-1zM349 284h1v1h-1zM348 285h1v2h-1zM1022 285h1v2h-1zM347 287h1v1h-1zM1023 287h1v2h-1zM346 288h1v1h-1zM345 289h1v1h-1zM1024 289h1v2h-1zM344 290h1v1h-1zM343 291h1v1h-1zM1025 291h1v2h-1zM342 292h1v1h-1zM341 293h1v1h-1zM1026 293h1v2h-1zM340 294h1v1h-1zM339 295h1v1h-1zM1027 295h1v1h-1zM338 296h1v2h-1zM1028 296h1v2h-1zM337 298h1v2h-1zM1029 298h1v2h-1zM336 300h1v2h-1zM1030 300h1v1h-1zM1031 301h1v2h-1zM335 302h1v2h-1zM1032 303h1v1h-1zM334 304h1v2h-1zM1033 304h1v2h-1zM333 306h1v2h-1zM1034 306h1v2h-1zM332 308h1v2h-1zM1035 308h2v1h-2zM1037 309h2v1h-2zM331 310h1v3h-1zM1039 310h2v1h-2zM1041 311h2v1h-2zM1043 312h1v1h-1zM330 313h1v2h-1zM1044 313h1v1h-1zM1045 314h1v1h-1zM329 315h1v2h-1zM1046 315h2v1h-2zM1048 316h1v1h-1zM328 317h1v2h-1zM1049 317h1v1h-1zM1050 318h1v1h-1zM327 319h1v2h-1zM1051 319h1v1h-1zM1052 320h1v1h-1zM326 321h1v2h-1zM1053 321h1v1h-1zM1054 322h1v1h-1zM325 323h1v2h-1zM1055 323h1v2h-1zM24 324h8v1h-8zM19 325h5v1h-5zM32 325h8v1h-8zM324 325h1v2h-1zM1056 325h1v1h-1zM18 326h1v1h-1zM40 326h12v1h-12zM1057 326h1v1h-1zM17 327h1v1h-1zM52 327h1v1h-1zM323 327h1v2h-1zM1058 327h1v1h-1zM16 328h1v1h-1zM53 328h1v1h-1zM1059 328h1v1h-1zM14 329h2v1h-2zM54 329h1v1h-1zM322 329h1v2h-1zM1060 329h1v2h-1zM13 330h1v1h-1zM55 330h1v1h-1zM12 331h1v1h-1zM56 331h1v1h-1zM321 331h1v2h-1zM1061 331h1v2h-1zM11 332h1v1h-1zM57 332h1v1h-1zM9 333h2v1h-2zM58 333h1v1h-1zM320 333h1v2h-1zM1062 333h1v1h-1zM7 334h2v1h-2zM59 334h1v1h-1zM1063 334h1v2h-1zM5 335h2v1h-2zM60 335h1v1h-1zM319 335h1v2h-1zM3 336h2v1h-2zM61 336h1v2h-1zM1064 336h1v1h-1zM318 337h1v2h-1zM1065 337h1v2h-1zM62 338h1v1h-1zM63 339h1v1h-1zM317 339h1v2h-1zM1066 339h1v2h-1zM64 340h1v1h-1zM65 341h1v2h-1zM316 341h1v2h-1zM1067 341h1v2h-1zM66 343h1v1h-1zM315 343h1v1h-1zM1068 343h1v2h-1zM67 344h1v1h-1zM314 344h1v2h-1zM68 345h1v2h-1zM1069 345h1v2h-1zM313 346h1v2h-1zM69 347h1v1h-1zM1070 347h1v2h-1zM70 348h1v2h-1zM312 348h1v2h-1zM1071 349h1v2h-1zM71 350h1v1h-1zM311 350h1v2h-1zM72 351h1v2h-1zM1072 351h1v2h-1zM310 352h1v2h-1zM73 353h1v1h-1zM1073 353h1v2h-1zM74 354h1v2h-1zM309 354h1v2h-1zM1074 355h1v2h-1zM75 356h1v1h-1zM308 356h1v2h-1zM76 357h1v2h-1zM1075 357h1v3h-1zM211 358h1v1h-1zM307 358h1v2h-1zM77 359h1v1h-1zM210 359h1v1h-1zM212 359h2v1h-2zM78 360h1v1h-1zM208 360h2v1h-2zM214 360h2v1h-2zM306 360h1v2h-1zM1076 360h1v2h-1zM79 361h1v2h-1zM207 361h1v1h-1zM216 361h1v1h-1zM206 362h1v1h-1zM217 362h2v1h-2zM305 362h1v2h-1zM1077 362h1v2h-1zM80 363h1v1h-1zM204 363h2v1h-2zM219 363h1v1h-1zM81 364h1v1h-1zM203 364h1v1h-1zM220 364h1v2h-1zM304 364h1v2h-1zM1078 364h1v2h-1zM82 365h1v2h-1zM201 365h2v1h-2zM199 366h2v1h-2zM221 366h1v2h-1zM303 366h1v2h-1zM1079 366h1v2h-1zM83 367h1v1h-1zM197 367h2v1h-2zM84 368h1v2h-1zM195 368h2v1h-2zM222 368h1v1h-1zM302 368h1v2h-1zM1080 368h1v2h-1zM194 369h1v1h-1zM223 369h1v2h-1zM85 370h1v1h-1zM193 370h1v1h-1zM301 370h1v2h-1zM1081 370h1v2h-1zM86 371h1v2h-1zM192 371h1v1h-1zM224 371h1v1h-1zM190 372h2v1h-2zM225 372h1v2h-1zM300 372h1v2h-1zM1082 372h1v2h-1zM87 373h1v1h-1zM189 373h1v1h-1zM88 374h1v2h-1zM188 374h1v1h-1zM226 374h1v2h-1zM299 374h1v3h-1zM1083 374h1v3h-1zM187 375h1v1h-1zM89 376h1v1h-1zM186 376h1v1h-1zM227 376h1v1h-1zM90 377h1v2h-1zM185 377h1v2h-1zM228 377h2v1h-2zM298 377h1v2h-1zM1084 377h1v2h-1zM230 378h1v1h-1zM91 379h1v1h-1zM184 379h1v1h-1zM231 379h1v1h-1zM297 379h1v2h-1zM1085 379h1v3h-1zM92 380h1v2h-1zM183 380h1v1h-1zM232 380h2v1h-2zM182 381h1v1h-1zM234 381h1v1h-1zM296 381h1v2h-1zM93 382h1v1h-1zM181 382h1v2h-1zM235 382h1v1h-1zM1086 382h1v2h-1zM94 383h1v1h-1zM236 383h1v1h-1zM295 383h1v2h-1zM95 384h1v2h-1zM180 384h1v1h-1zM237 384h1v1h-1zM1087 384h1v3h-1zM179 385h1v1h-1zM238 385h2v1h-2zM294 385h1v2h-1zM96 386h1v1h-1zM178 386h1v1h-1zM240 386h1v1h-1zM97 387h1v1h-1zM177 387h1v2h-1zM241 387h1v1h-1zM293 387h1v2h-1zM1088 387h1v2h-1zM98 388h1v2h-1zM242 388h1v1h-1zM176 389h1v1h-1zM243 389h1v1h-1zM292 389h1v2h-1zM1089 389h1v3h-1zM99 390h1v1h-1zM175 390h1v1h-1zM244 390h1v1h-1zM100 391h2v1h-2zM174 391h1v1h-1zM245 391h1v2h-1zM291 391h1v2h-1zM102 392h2v1h-2zM173 392h1v2h-1zM1090 392h1v2h-1zM104 393h1v1h-1zM246 393h1v1h-1zM290 393h1v1h-1zM105 394h2v1h-2zM172 394h1v1h-1zM247 394h1v1h-1zM289 394h1v1h-1zM1091 394h1v3h-1zM107 395h2v1h-2zM171 395h1v1h-1zM248 395h1v1h-1zM288 395h1v1h-1zM109 396h2v1h-2zM170 396h1v1h-1zM249 396h1v2h-1zM286 396h2v1h-2zM111 397h2v1h-2zM169 397h1v1h-1zM285 397h1v1h-1zM1092 397h1v2h-1zM113 398h2v1h-2zM168 398h1v1h-1zM250 398h1v1h-1zM284 398h1v1h-1zM115 399h1v1h-1zM166 399h2v1h-2zM251 399h1v1h-1zM283 399h1v1h-1zM1093 399h1v3h-1zM116 400h2v1h-2zM165 400h1v1h-1zM252 400h2v1h-2zM281 400h2v1h-2zM118 401h1v1h-1zM164 401h1v1h-1zM254 401h2v1h-2zM279 401h2v1h-2zM119 402h1v1h-1zM162 402h2v1h-2zM256 402h1v1h-1zM266 402h6v1h-6zM277 402h2v1h-2zM1094 402h1v3h-1zM120 403h2v1h-2zM158 403h4v1h-4zM257 403h2v1h-2zM262 403h4v1h-4zM272 403h5v1h-5zM122 404h1v1h-1zM144 404h14v1h-14zM259 404h3v1h-3zM123 405h2v1h-2zM139 405h5v1h-5zM1095 405h1v2h-1zM125 406h2v1h-2zM137 406h2v1h-2zM127 407h2v1h-2zM135 407h2v1h-2zM1096 407h1v3h-1zM129 408h2v1h-2zM133 408h2v1h-2zM131 409h2v1h-2zM1097 410h1v3h-1zM1098 413h1v2h-1zM1099 415h1v3h-1zM1100 418h1v3h-1zM1101 421h1v3h-1zM1102 424h1v3h-1zM1103 427h1v3h-1zM1104 430h1v3h-1zM1105 433h1v3h-1zM1106 436h1v3h-1zM1107 439h1v3h-1zM1108 442h1v3h-1zM1109 445h1v3h-1zM1110 448h1v3h-1zM1111 451h1v3h-1zM1112 454h1v3h-1zM1113 457h1v3h-1zM1114 460h1v3h-1zM1115 463h1v1h-1z" fill="#ff0000"/>
<path d="M898 118h2v1h-2zM894 119h4v1h-4zM900 119h1v1h-1zM891 120h3v1h-3zM901 120h1v1h-1zM890 121h1v1h-1zM902 121h2v1h-2zM889 122h1v2h-1zM904 122h1v1h-1zM905 123h1v1h-1zM888 124h1v1h-1zM906 124h1v1h-1zM887 125h1v1h-1zM907 125h1v1h-1zM886 126h1v1h-1zM908 126h1v1h-1zM885 127h1v2h-1zM909 127h1v2h-1zM884 129h1v1h-1zM910 129h1v1h-1zM883 130h1v1h-1zM911 130h1v1h-1zM882 131h1v1h-1zM912 131h1v1h-1zM881 132h1v1h-1zM913 132h1v2h-1zM880 133h1v1h-1zM879 134h1v1h-1zM914 134h1v1h-1zM878 135h1v1h-1zM915 135h1v2h-1zM877 136h1v1h-1zM876 137h1v1h-1zM916 137h1v2h-1zM875 138h1v1h-1zM874 139h1v2h-1zM917 139h1v2h-1zM873 141h1v1h-1zM918 141h1v3h-1zM872 142h1v1h-1zM871 143h1v2h-1zM919 144h1v2h-1zM870 145h1v1h-1zM869 146h1v1h-1zM920 146h1v3h-1zM868 147h1v2h-1zM867 149h1v1h-1zM921 149h1v2h-1zM730 150h2v1h-2zM866 150h1v2h-1zM728 151h2v1h-2zM732 151h1v1h-1zM922 151h1v2h-1zM725 152h3v1h-3zM733 152h1v1h-1zM762 152h2v1h-2zM865 152h1v2h-1zM723 153h2v1h-2zM734 153h2v1h-2zM758 153h4v1h-4zM764 153h2v1h-2zM923 153h1v4h-1zM722 154h1v2h-1zM736 154h1v1h-1zM752 154h6v1h-6zM766 154h2v1h-2zM864 154h1v2h-1zM737 155h1v1h-1zM746 155h6v1h-6zM768 155h1v1h-1zM721 156h1v2h-1zM738 156h1v1h-1zM742 156h4v1h-4zM769 156h2v1h-2zM863 156h1v2h-1zM672 157h5v1h-5zM739 157h3v1h-3zM771 157h5v1h-5zM924 157h1v5h-1zM667 158h5v1h-5zM677 158h2v1h-2zM720 158h1v1h-1zM776 158h5v1h-5zM794 158h4v1h-4zM862 158h1v2h-1zM666 159h1v1h-1zM679 159h2v1h-2zM719 159h1v2h-1zM781 159h3v1h-3zM792 159h2v1h-2zM798 159h4v1h-4zM664 160h2v1h-2zM681 160h2v1h-2zM784 160h2v1h-2zM789 160h3v1h-3zM802 160h2v1h-2zM861 160h1v2h-1zM663 161h1v1h-1zM683 161h1v1h-1zM718 161h1v1h-1zM786 161h3v1h-3zM804 161h1v1h-1zM662 162h1v1h-1zM684 162h1v1h-1zM717 162h1v2h-1zM805 162h1v1h-1zM860 162h1v2h-1zM925 162h1v4h-1zM660 163h2v1h-2zM685 163h1v1h-1zM806 163h1v1h-1zM659 164h1v1h-1zM686 164h2v1h-2zM716 164h1v2h-1zM807 164h1v2h-1zM859 164h1v2h-1zM658 165h1v1h-1zM688 165h1v1h-1zM657 166h1v1h-1zM689 166h1v1h-1zM714 166h2v1h-2zM808 166h1v1h-1zM858 166h1v1h-1zM926 166h1v5h-1zM656 167h1v1h-1zM690 167h1v1h-1zM696 167h8v1h-8zM710 167h4v1h-4zM809 167h1v1h-1zM857 167h1v1h-1zM655 168h1v2h-1zM691 168h5v1h-5zM704 168h6v1h-6zM810 168h1v1h-1zM856 168h1v1h-1zM811 169h2v1h-2zM827 169h2v1h-2zM855 169h1v2h-1zM654 170h1v1h-1zM813 170h2v1h-2zM825 170h2v1h-2zM829 170h3v1h-3zM653 171h1v1h-1zM815 171h2v1h-2zM823 171h2v1h-2zM832 171h2v1h-2zM854 171h1v1h-1zM927 171h1v5h-1zM652 172h1v1h-1zM817 172h2v1h-2zM821 172h2v1h-2zM834 172h4v1h-4zM853 172h1v1h-1zM651 173h1v1h-1zM819 173h2v1h-2zM838 173h4v1h-4zM852 173h1v1h-1zM650 174h1v2h-1zM842 174h10v1h-10zM649 176h1v2h-1zM928 176h1v5h-1zM648 178h1v2h-1zM647 180h1v1h-1zM646 181h1v2h-1zM929 181h1v4h-1zM645 183h1v2h-1zM644 185h1v2h-1zM930 185h1v5h-1zM643 187h1v2h-1zM642 189h1v2h-1zM931 190h1v5h-1zM641 191h1v2h-1zM640 193h1v2h-1zM639 195h1v3h-1zM932 195h1v4h-1zM638 198h1v2h-1zM933 199h1v5h-1zM637 200h1v2h-1zM636 202h1v2h-1zM635 204h1v2h-1zM934 204h1v5h-1zM339 206h1v1h-1zM451 206h2v1h-2zM634 206h1v2h-1zM338 207h1v1h-1zM340 207h1v1h-1zM451 207h1v1h-1zM453 207h3v1h-3zM337 208h1v1h-1zM341 208h1v1h-1zM450 208h1v3h-1zM456 208h2v1h-2zM633 208h1v2h-1zM336 209h1v1h-1zM342 209h1v1h-1zM458 209h2v1h-2zM935 209h1v4h-1zM335 210h1v1h-1zM343 210h1v1h-1zM460 210h1v1h-1zM632 210h1v2h-1zM334 211h1v1h-1zM344 211h1v1h-1zM449 211h1v2h-1zM461 211h1v1h-1zM333 212h1v1h-1zM345 212h1v1h-1zM462 212h1v1h-1zM631 212h1v2h-1zM332 213h1v1h-1zM346 213h1v1h-1zM448 213h1v3h-1zM463 213h1v1h-1zM936 213h1v5h-1zM331 214h1v1h-1zM347 214h1v1h-1zM464 214h1v1h-1zM630 214h1v2h-1zM330 215h1v2h-1zM348 215h1v2h-1zM465 215h1v1h-1zM447 216h1v3h-1zM466 216h1v1h-1zM629 216h1v2h-1zM329 217h1v2h-1zM349 217h1v2h-1zM467 217h1v1h-1zM468 218h1v2h-1zM628 218h1v2h-1zM937 218h1v5h-1zM328 219h1v2h-1zM350 219h1v2h-1zM446 219h1v3h-1zM469 220h1v2h-1zM627 220h1v1h-1zM327 221h1v1h-1zM351 221h1v1h-1zM626 221h1v2h-1zM326 222h1v2h-1zM352 222h1v2h-1zM445 222h1v2h-1zM470 222h1v2h-1zM625 223h1v2h-1zM938 223h1v4h-1zM325 224h1v2h-1zM353 224h1v2h-1zM444 224h1v3h-1zM471 224h1v2h-1zM624 225h1v2h-1zM324 226h1v2h-1zM354 226h1v2h-1zM472 226h1v2h-1zM443 227h1v2h-1zM623 227h1v2h-1zM939 227h1v5h-1zM323 228h1v1h-1zM355 228h1v1h-1zM473 228h1v2h-1zM322 229h1v2h-1zM356 229h1v2h-1zM442 229h1v2h-1zM622 229h1v2h-1zM474 230h1v2h-1zM321 231h1v2h-1zM357 231h1v2h-1zM441 231h1v1h-1zM621 231h1v2h-1zM440 232h1v1h-1zM475 232h1v1h-1zM940 232h1v4h-1zM320 233h1v2h-1zM358 233h1v2h-1zM439 233h1v2h-1zM476 233h1v1h-1zM620 233h1v2h-1zM477 234h1v1h-1zM319 235h1v2h-1zM359 235h1v2h-1zM438 235h1v1h-1zM478 235h1v1h-1zM619 235h1v2h-1zM437 236h1v1h-1zM479 236h1v2h-1zM941 236h1v5h-1zM318 237h1v2h-1zM360 237h1v2h-1zM436 237h1v2h-1zM618 237h1v2h-1zM480 238h1v1h-1zM317 239h1v2h-1zM361 239h1v2h-1zM435 239h1v1h-1zM481 239h1v1h-1zM617 239h1v2h-1zM433 240h2v1h-2zM482 240h1v1h-1zM316 241h1v2h-1zM362 241h1v2h-1zM432 241h1v1h-1zM483 241h1v1h-1zM616 241h1v2h-1zM942 241h1v5h-1zM430 242h2v1h-2zM484 242h2v1h-2zM315 243h1v3h-1zM363 243h1v1h-1zM428 243h2v1h-2zM486 243h2v1h-2zM615 243h1v2h-1zM364 244h1v2h-1zM427 244h1v1h-1zM488 244h1v1h-1zM426 245h1v1h-1zM489 245h2v1h-2zM614 245h1v2h-1zM1003 245h5v1h-5zM314 246h1v4h-1zM365 246h1v1h-1zM425 246h1v1h-1zM491 246h1v1h-1zM943 246h1v4h-1zM1002 246h1v2h-1zM1008 246h4v1h-4zM366 247h1v1h-1zM424 247h1v1h-1zM492 247h2v1h-2zM613 247h1v2h-1zM1011 247h1v1h-1zM367 248h1v2h-1zM423 248h1v1h-1zM494 248h1v1h-1zM1001 248h1v2h-1zM1012 248h1v2h-1zM422 249h1v1h-1zM495 249h1v1h-1zM612 249h1v2h-1zM313 250h1v4h-1zM368 250h1v1h-1zM421 250h1v1h-1zM496 250h2v1h-2zM944 250h1v5h-1zM1000 250h1v2h-1zM1013 250h1v3h-1zM369 251h1v1h-1zM420 251h1v1h-1zM498 251h1v1h-1zM610 251h2v1h-2zM370 252h1v2h-1zM419 252h1v1h-1zM499 252h1v1h-1zM606 252h4v1h-4zM999 252h1v2h-1zM418 253h1v1h-1zM500 253h1v1h-1zM595 253h11v1h-11zM1014 253h1v2h-1zM312 254h1v4h-1zM371 254h1v1h-1zM417 254h1v2h-1zM501 254h1v1h-1zM594 254h1v1h-1zM998 254h1v2h-1zM372 255h1v2h-1zM502 255h2v1h-2zM515 255h1v1h-1zM593 255h1v1h-1zM945 255h1v5h-1zM1015 255h1v3h-1zM416 256h1v1h-1zM504 256h1v1h-1zM513 256h2v1h-2zM516 256h2v1h-2zM592 256h1v1h-1zM997 256h1v2h-1zM373 257h1v1h-1zM415 257h1v1h-1zM505 257h1v1h-1zM511 257h2v1h-2zM518 257h2v1h-2zM547 257h2v1h-2zM591 257h1v1h-1zM311 258h1v4h-1zM374 258h1v1h-1zM414 258h1v1h-1zM506 258h1v1h-1zM509 258h2v1h-2zM520 258h1v1h-1zM530 258h3v1h-3zM545 258h2v1h-2zM549 258h2v1h-2zM590 258h1v1h-1zM996 258h1v2h-1zM1016 258h1v2h-1zM375 259h1v2h-1zM413 259h1v2h-1zM507 259h2v1h-2zM521 259h2v1h-2zM526 259h4v1h-4zM533 259h3v1h-3zM543 259h2v1h-2zM551 259h2v1h-2zM589 259h1v1h-1zM523 260h3v1h-3zM536 260h2v1h-2zM541 260h2v1h-2zM553 260h2v1h-2zM588 260h1v1h-1zM946 260h1v4h-1zM995 260h1v3h-1zM1017 260h1v3h-1zM376 261h1v1h-1zM412 261h1v1h-1zM538 261h3v1h-3zM555 261h1v1h-1zM586 261h2v1h-2zM310 262h1v4h-1zM377 262h1v1h-1zM411 262h1v1h-1zM556 262h1v1h-1zM582 262h4v1h-4zM378 263h1v2h-1zM410 263h1v2h-1zM557 263h1v1h-1zM579 263h3v1h-3zM994 263h1v2h-1zM1018 263h1v2h-1zM558 264h1v1h-1zM578 264h1v1h-1zM947 264h1v4h-1zM379 265h1v1h-1zM409 265h1v2h-1zM559 265h1v1h-1zM577 265h1v1h-1zM993 265h1v2h-1zM1019 265h1v3h-1zM309 266h1v4h-1zM380 266h1v1h-1zM560 266h1v1h-1zM576 266h1v1h-1zM381 267h1v2h-1zM408 267h1v1h-1zM561 267h1v1h-1zM574 267h2v1h-2zM992 267h1v3h-1zM407 268h1v2h-1zM562 268h1v1h-1zM573 268h1v1h-1zM948 268h1v2h-1zM1020 268h1v2h-1zM382 269h1v1h-1zM563 269h5v1h-5zM572 269h1v1h-1zM308 270h1v4h-1zM383 270h1v1h-1zM406 270h1v1h-1zM568 270h4v1h-4zM949 270h1v3h-1zM991 270h1v2h-1zM1021 270h1v2h-1zM384 271h1v1h-1zM405 271h1v2h-1zM385 272h1v2h-1zM990 272h1v3h-1zM1022 272h1v2h-1zM404 273h1v2h-1zM950 273h1v2h-1zM307 274h1v5h-1zM386 274h1v1h-1zM1023 274h1v2h-1zM387 275h1v1h-1zM403 275h1v1h-1zM951 275h1v3h-1zM989 275h1v2h-1zM388 276h1v2h-1zM402 276h1v2h-1zM1024 276h1v2h-1zM988 277h1v2h-1zM389 278h1v1h-1zM401 278h1v1h-1zM952 278h1v2h-1zM1025 278h1v2h-1zM306 279h1v5h-1zM390 279h1v1h-1zM400 279h1v1h-1zM987 279h1v3h-1zM391 280h1v2h-1zM399 280h1v2h-1zM953 280h1v3h-1zM1026 280h1v2h-1zM392 282h1v1h-1zM398 282h1v1h-1zM986 282h1v2h-1zM1027 282h1v3h-1zM393 283h1v1h-1zM397 283h1v1h-1zM954 283h1v2h-1zM305 284h1v5h-1zM394 284h1v2h-1zM396 284h1v2h-1zM985 284h1v2h-1zM955 285h1v2h-1zM1028 285h1v4h-1zM395 286h1v1h-1zM984 286h1v3h-1zM956 287h1v1h-1zM957 288h1v1h-1zM304 289h1v5h-1zM958 289h2v1h-2zM983 289h1v2h-1zM1029 289h1v4h-1zM960 290h1v1h-1zM961 291h1v1h-1zM982 291h1v3h-1zM962 292h1v1h-1zM963 293h1v1h-1zM1030 293h1v3h-1zM303 294h1v5h-1zM964 294h1v2h-1zM981 294h1v2h-1zM965 296h1v2h-1zM980 296h1v2h-1zM1031 296h1v4h-1zM19 298h1v1h-1zM966 298h1v2h-1zM979 298h1v2h-1zM18 299h1v2h-1zM20 299h1v1h-1zM302 299h1v5h-1zM21 300h1v1h-1zM967 300h1v2h-1zM978 300h1v1h-1zM1032 300h1v3h-1zM17 301h1v1h-1zM22 301h2v1h-2zM977 301h1v1h-1zM16 302h1v2h-1zM24 302h1v1h-1zM968 302h1v2h-1zM976 302h1v1h-1zM25 303h1v1h-1zM975 303h1v2h-1zM1033 303h1v4h-1zM15 304h1v1h-1zM26 304h1v1h-1zM301 304h1v5h-1zM969 304h1v2h-1zM14 305h1v2h-1zM27 305h1v1h-1zM974 305h1v1h-1zM28 306h1v1h-1zM970 306h1v2h-1zM973 306h1v1h-1zM13 307h1v1h-1zM29 307h1v1h-1zM972 307h1v1h-1zM1034 307h1v4h-1zM12 308h1v2h-1zM30 308h2v1h-2zM971 308h1v1h-1zM32 309h1v1h-1zM300 309h1v5h-1zM11 310h1v1h-1zM33 310h1v1h-1zM10 311h1v2h-1zM34 311h1v1h-1zM1035 311h1v4h-1zM35 312h3v1h-3zM9 313h1v2h-1zM38 313h4v1h-4zM42 314h3v1h-3zM299 314h1v5h-1zM8 315h1v1h-1zM45 315h2v1h-2zM1036 315h1v4h-1zM7 316h1v2h-1zM47 316h2v1h-2zM49 317h2v1h-2zM6 318h1v1h-1zM51 318h1v3h-1zM5 319h1v2h-1zM298 319h1v6h-1zM1037 319h1v4h-1zM4 321h1v2h-1zM52 321h1v4h-1zM3 323h1v1h-1zM1038 323h1v4h-1zM53 325h1v4h-1zM297 325h1v6h-1zM1039 327h1v4h-1zM54 329h1v4h-1zM163 330h1v1h-1zM162 331h1v1h-1zM164 331h1v1h-1zM296 331h1v6h-1zM1040 331h1v4h-1zM161 332h1v2h-1zM165 332h1v1h-1zM55 333h1v4h-1zM166 333h1v1h-1zM160 334h1v1h-1zM167 334h1v2h-1zM159 335h1v1h-1zM1041 335h1v4h-1zM158 336h1v1h-1zM168 336h1v1h-1zM56 337h1v4h-1zM157 337h1v2h-1zM169 337h1v1h-1zM295 337h1v5h-1zM170 338h1v1h-1zM156 339h1v1h-1zM171 339h2v1h-2zM1042 339h1v4h-1zM155 340h1v2h-1zM173 340h3v1h-3zM57 341h1v4h-1zM176 341h2v1h-2zM154 342h1v2h-1zM178 342h2v1h-2zM294 342h1v6h-1zM180 343h2v1h-2zM1043 343h1v4h-1zM153 344h1v2h-1zM182 344h2v1h-2zM58 345h1v4h-1zM184 345h1v1h-1zM152 346h1v3h-1zM185 346h2v1h-2zM187 347h1v1h-1zM1044 347h1v4h-1zM188 348h1v2h-1zM293 348h1v6h-1zM59 349h1v4h-1zM151 349h1v2h-1zM189 350h1v1h-1zM150 351h1v3h-1zM190 351h1v2h-1zM1045 351h1v5h-1zM60 353h1v4h-1zM191 353h1v1h-1zM149 354h1v2h-1zM192 354h1v2h-1zM292 354h1v6h-1zM148 356h1v2h-1zM193 356h1v1h-1zM1046 356h1v4h-1zM61 357h1v4h-1zM194 357h1v2h-1zM147 358h1v3h-1zM195 359h1v1h-1zM196 360h1v1h-1zM291 360h1v4h-1zM1047 360h1v5h-1zM62 361h1v5h-1zM146 361h1v2h-1zM197 361h1v1h-1zM198 362h1v1h-1zM145 363h1v2h-1zM199 363h1v2h-1zM290 364h1v2h-1zM144 365h1v2h-1zM200 365h1v1h-1zM1048 365h1v4h-1zM63 366h1v4h-1zM201 366h1v1h-1zM289 366h1v3h-1zM143 367h1v3h-1zM202 367h1v1h-1zM203 368h1v1h-1zM204 369h2v1h-2zM288 369h1v2h-1zM1049 369h1v5h-1zM64 370h1v5h-1zM142 370h1v2h-1zM206 370h1v1h-1zM207 371h1v1h-1zM287 371h1v3h-1zM141 372h1v2h-1zM208 372h2v1h-2zM210 373h1v1h-1zM140 374h1v2h-1zM211 374h1v2h-1zM286 374h1v2h-1zM1050 374h1v4h-1zM65 375h1v4h-1zM139 376h1v3h-1zM212 376h1v3h-1zM285 376h1v3h-1zM1051 378h1v4h-1zM66 379h1v4h-1zM138 379h1v4h-1zM213 379h1v2h-1zM284 379h1v2h-1zM214 381h1v3h-1zM283 381h1v3h-1zM1052 382h1v4h-1zM67 383h1v4h-1zM137 383h1v4h-1zM215 384h1v3h-1zM282 384h1v3h-1zM1053 386h1v4h-1zM68 387h1v4h-1zM136 387h1v4h-1zM216 387h1v3h-1zM281 387h1v3h-1zM217 390h1v2h-1zM280 390h1v3h-1zM1054 390h1v4h-1zM69 391h1v3h-1zM135 391h1v3h-1zM218 392h1v3h-1zM279 393h1v4h-1zM70 394h1v4h-1zM134 394h1v4h-1zM1055 394h1v3h-1zM219 395h1v3h-1zM278 397h1v3h-1zM1056 397h1v4h-1zM71 398h1v3h-1zM133 398h1v4h-1zM220 398h1v2h-1zM221 400h1v2h-1zM277 400h1v3h-1zM72 401h1v4h-1zM1057 401h1v4h-1zM132 402h1v4h-1zM222 402h1v2h-1zM276 403h1v3h-1zM223 404h1v2h-1zM73 405h1v3h-1zM1058 405h1v4h-1zM131 406h1v3h-1zM224 406h1v2h-1zM275 406h1v3h-1zM74 408h1v4h-1zM225 408h1v2h-1zM130 409h1v2h-1zM274 409h1v3h-1zM1059 409h1v3h-1zM226 410h1v2h-1zM129 411h1v3h-1zM75 412h1v3h-1zM227 412h1v2h-1zM273 412h1v3h-1zM1060 412h1v4h-1zM128 414h1v3h-1zM228 414h1v1h-1zM76 415h1v2h-1zM229 415h1v1h-1zM272 415h1v3h-1zM230 416h1v1h-1zM1061 416h1v3h-1zM77 417h1v2h-1zM127 417h1v2h-1zM231 417h1v2h-1zM271 418h1v2h-1zM78 419h1v2h-1zM126 419h1v3h-1zM232 419h1v1h-1zM1062 419h1v3h-1zM233 420h1v1h-1zM270 420h1v3h-1zM79 421h1v3h-1zM234 421h1v1h-1zM125 422h1v3h-1zM235 422h1v1h-1zM1063 422h1v4h-1zM236 423h1v1h-1zM269 423h1v3h-1zM80 424h1v2h-1zM237 424h1v1h-1zM124 425h1v2h-1zM238 425h1v1h-1zM81 426h1v2h-1zM239 426h1v1h-1zM268 426h1v3h-1zM1064 426h1v3h-1zM123 427h1v3h-1zM240 427h1v1h-1zM82 428h1v2h-1zM241 428h1v1h-1zM242 429h1v1h-1zM267 429h1v2h-1zM1065 429h1v3h-1zM83 430h1v3h-1zM122 430h1v3h-1zM243 430h1v1h-1zM244 431h1v1h-1zM266 431h1v2h-1zM245 432h1v2h-1zM1066 432h1v4h-1zM84 433h1v2h-1zM121 433h1v3h-1zM265 433h1v1h-1zM246 434h1v1h-1zM264 434h1v1h-1zM85 435h1v2h-1zM247 435h1v1h-1zM263 435h1v2h-1zM120 436h1v3h-1zM248 436h1v1h-1zM1067 436h1v3h-1zM86 437h1v2h-1zM249 437h1v2h-1zM262 437h1v1h-1zM261 438h1v1h-1zM87 439h1v2h-1zM119 439h1v4h-1zM250 439h1v1h-1zM260 439h1v2h-1zM1068 439h1v2h-1zM251 440h5v1h-5zM88 441h1v2h-1zM256 441h4v1h-4zM1069 441h1v2h-1zM89 443h1v2h-1zM118 443h1v3h-1zM1070 443h1v2h-1zM90 445h1v2h-1zM1071 445h1v2h-1zM117 446h1v3h-1zM91 447h1v3h-1zM1072 447h1v2h-1zM116 449h1v3h-1zM1073 449h1v2h-1zM92 450h1v2h-1zM1074 451h1v2h-1zM93 452h1v2h-1zM115 452h1v3h-1zM1075 453h1v2h-1zM94 454h1v2h-1zM114 455h1v2h-1zM1076 455h1v2h-1zM95 456h1v3h-1zM113 457h1v3h-1zM1077 457h1v2h-1zM96 459h1v2h-1zM1078 459h1v2h-1zM112 460h1v2h-1zM97 461h1v2h-1zM1079 461h1v2h-1zM111 462h1v3h-1zM98 463h1v2h-1zM1080 463h1v2h-1zM99 465h1v2h-1zM110 465h1v2h-1zM1081 465h1v2h-1zM100 467h1v1h-1zM109 467h1v3h-1zM1082 467h1v2h-1zM101 468h1v1h-1zM102 469h2v1h-2zM1083 469h1v1h-1zM104 470h1v1h-1zM108 470h1v2h-1zM1084 470h1v1h-1zM105 471h1v1h-1zM1085 471h1v1h-1zM106 472h2v1h-2zM1086 472h1v1h-1zM107 473h1v1h-1zM1087 473h1v1h-1zM1088 474h1v1h-1zM1089 475h1v1h-1zM1090 476h1v1h-1zM1091 477h1v1h-1zM1092 478h1v2h-1zM1093 480h1v1h-1zM1094 481h1v2h-1zM1095 483h1v1h-1zM1096 484h1v2h-1zM1097 486h1v1h-1zM1098 487h1v2h-1zM1099 489h1v2h-1zM1100 491h1v2h-1zM1101 493h1v2h-1zM1102 495h1v2h-1zM1103 497h1v2h-1zM1104 499h1v2h-1zM1105 501h1v2h-1zM1106 503h1v2h-1zM1107 505h1v2h-1zM1108 507h1v1h-1zM1109 508h1v1h-1zM1110 509h1v1h-1zM1111 510h1v2h-1zM1112 512h1v1h-1zM1113 513h1v1h-1zM1114 514h1v1h-1z" fill="#0000cd"/>
<rect x="920" y="344" width="304" height="4" fill="#ff3232"/>
<rect x="917" y="428" width="310" height="4" fill="#99cc00"/>
</g>
<rect x="3" y="603" width="1" height="25" fill="#c0c0c0"/>
<rect x="11" y="603" width="1" height="23" fill="#c0c0c0"/>
<rect x="19" y="603" width="1" height="19" fill="#c0c0c0"/>
<rect x="27" y="603" width="1" height="23" fill="#c0c0c0"/>
<rect x="35" y="603" width="1" height="26" fill="#c0c0c0"/>
<rect x="43" y="603" width="1" height="24" fill="#c0c0c0"/>
<rect x="51" y="603" width="1" height="24" fill="#c0c0c0"/>
<rect x="59" y="603" width="1" height="31" fill="#c0c0c0"/>
<rect x="67" y="603" width="1" height="36" fill="#c0c0c0"/>
<rect x="75" y="603" width="1" height="42" fill="#c0c0c0"/>
<rect x="83" y="603" width="1" height="46" fill="#c0c0c0"/>
<rect x="91" y="603" width="1" height="47" fill="#c0c0c0"/>
<rect x="99" y="603" width="1" height="47" fill="#c0c0c0"/>
<rect x="107" y="603" width="1" height="40" fill="#c0c0c0"/>
<rect x="115" y="603" width="1" height="31" fill="#c0c0c0"/>
<rect x="123" y="603" width="1" height="25" fill="#c0c0c0"/>
<rect x="131" y="603" width="1" height="20" fill="#c0c0c0"/>
<rect x="139" y="603" width="1" height="14" fill="#c0c0c0"/>
<rect x="147" y="603" width="1" height="13" fill="#c0c0c0"/>
<rect x="155" y="603" width="1" height="10" fill="#c0c0c0"/>
<rect x="163" y="603" width="1" height="7" fill="#c0c0c0"/>
<rect x="171" y="603" width="1" height="6" fill="#c0c0c0"/>
<rect x="179" y="603" width="1" height="6" fill="#c0c0c0"/>
<rect x="187" y="603" width="1" height="6" fill="#c0c0c0"/>
<rect x="195" y="603" width="1" height="8" fill="#c0c0c0"/>
<rect x="203" y="603" width="1" height="9" fill="#c0c0c0"/>
<rect x="211" y="603" width="1" height="9" fill="#c0c0c0"/>
<rect x="219" y="603" width="1" height="15" fill="#c0c0c0"/>
<rect x="227" y="603" width="1" height="18" fill="#c0c0c0"/>
<rect x="235" y="603" width="1" height="18" fill="#c0c0c0"/>
<rect x="243" y="603" width="1" height="18" fill="#c0c0c0"/>
<rect x="251" y="603" width="1" height="20" fill="#c0c0c0"/>
<rect x="259" y="603" width="1" height="20" fill="#c0c0c0"/>
<rect x="267" y="603" width="1" height="11" fill="#c0c0c0"/>
<rect x="275" y="603" width="1" height="6" fill="#c0c0c0"/>
<rect x="291" y="597" width="1" height="7" fill="#c0c0c0"/>
<rect x="299" y="587" width="1" height="17" fill="#c0c0c0"/>
<rect x="307" y="579" width="1" height="25" fill="#c0c0c0"/>
<rect x="315" y="574" width="1" height="30" fill="#c0c0c0"/>
<rect x="323" y="571" width="1" height="33" fill="#c0c0c0"/>
<rect x="331" y="570" width="1" height="34" fill="#c0c0c0"/>
<rect x="339" y="572" width="1" height="32" fill="#c0c0c0"/>
<rect x="347" y="577" width="1" height="27" fill="#c0c0c0"/>
<rect x="355" y="580" width="1" height="24" fill="#c0c0c0"/>
<rect x="363" y="581" width="1" height="23" fill="#c0c0c0"/>
<rect x="371" y="583" width="1" height="21" fill="#c0c0c0"/>
<rect x="379" y="584" width="1" height="20" fill="#c0c0c0"/>
<rect x="387" y="587" width="1" height="17" fill="#c0c0c0"/>
<rect x="395" y="590" width="1" height="14" fill="#c0c0c0"/>
<rect x="403" y="589" width="1" height="15" fill="#c0c0c0"/>
<rect x="411" y="586" width="1" height="18" fill="#c0c0c0"/>
<rect x="419" y="583" width="1" height="21" fill="#c0c0c0"/>
<rect x="427" y="583" width="1" height="21" fill="#c0c0c0"/>
<rect x="435" y="583" width="1" height="21" fill="#c0c0c0"/>
<rect x="443" y="582" width="1" height="22" fill="#c0c0c0"/>
<rect x="451" y="581" width="1" height="23" fill="#c0c0c0"/>
<rect x="459" y="584" width="1" height="20" fill="#c0c0c0"/>
<rect x="467" y="587" width="1" height="17" fill="#c0c0c0"/>
<rect x="475" y="592" width="1" height="12" fill="#c0c0c0"/>
<rect x="483" y="594" width="1" height="10" fill="#c0c0c0"/>
<rect x="491" y="596" width="1" height="8" fill="#c0c0c0"/>
<rect x="499" y="596" width="1" height="8" fill="#c0c0c0"/>
<rect x="507" y="595" width="1" height="9" fill="#c0c0c0"/>
<rect x="515" y="595" width="1" height="9" fill="#c0c0c0"/>
<rect x="523" y="599" width="1" height="5" fill="#c0c0c0"/>
<rect x="531" y="601" width="1" height="3" fill="#c0c0c0"/>
<rect x="539" y="603" width="1" height="1" fill="#c0c0c0"/>
<rect x="547" y="601" width="1" height="3" fill="#c0c0c0"/>
<rect x="555" y="602" width="1" height="2" fill="#c0c0c0"/>
<rect x="571" y="602" width="1" height="2" fill="#c0c0c0"/>
<rect x="579" y="602" width="1" height="2" fill="#c0c0c0"/>
<rect x="587" y="602" width="1" height="2" fill="#c0c0c0"/>
<rect x="595" y="601" width="1" height="3" fill="#c0c0c0"/>
<rect x="603" y="600" width="1" height="4" fill="#c0c0c0"/>
<rect x="611" y="601" width="1" height="3" fill="#c0c0c0"/>
<rect x="619" y="597" width="1" height="7" fill="#c0c0c0"/>
<rect x="627" y="591" width="1" height="13" fill="#c0c0c0"/>
<rect x="635" y="586" width="1" height="18" fill="#c0c0c0"/>
<rect x="643" y="584" width="1" height="20" fill="#c0c0c0"/>
<rect x="651" y="583" width="1" height="21" fill="#c0c0c0"/>
<rect x="659" y="583" width="1" height="21" fill="#c0c0c0"/>
<rect x="667" y="586" width="1" height="18" fill="#c0c0c0"/>
<rect x="675" y="586" width="1" height="18" fill="#c0c0c0"/>
<rect x="683" y="585" width="1" height="19" fill="#c0c0c0"/>
<rect x="691" y="586" width="1" height="18" fill="#c0c0c0"/>
<rect x="699" y="584" width="1" height="20" fill="#c0c0c0"/>
<rect x="707" y="586" width="1" height="18" fill="#c0c0c0"/>
<rect x="715" y="585" width="1" height="19" fill="#c0c0c0"/>
<rect x="723" y="584" width="1" height="20" fill="#c0c0c0"/>
<rect x="731" y="586" width="1" height="18" fill="#c0c0c0"/>
<rect x="739" y="588" width="1" height="16" fill="#c0c0c0"/>
<rect x="747" y="590" width="1" height="14" fill="#c0c0c0"/>
<rect x="755" y="589" width="1" height="15" fill="#c0c0c0"/>
<rect x="763" y="589" width="1" height="15" fill="#c0c0c0"/>
<rect x="771" y="591" width="1" height="13" fill="#c0c0c0"/>
<rect x="779" y="591" width="1" height="13" fill="#c0c0c0"/>
<rect x="787" y="593" width="1" height="11" fill="#c0c0c0"/>
<rect x="795" y="594" width="1" height="10" fill="#c0c0c0"/>
<rect x="803" y="596" width="1" height="8" fill="#c0c0c0"/>
<rect x="811" y="599" width="1" height="5" fill="#c0c0c0"/>
<rect x="819" y="599" width="1" height="5" fill="#c0c0c0"/>
<rect x="827" y="598" width="1" height="6" fill="#c0c0c0"/>
<rect x="835" y="599" width="1" height="5" fill="#c0c0c0"/>
<rect x="843" y="599" width="1" height="5" fill="#c0c0c0"/>
<rect x="851" y="600" width="1" height="4" fill="#c0c0c0"/>
<rect x="859" y="598" width="1" height="6" fill="#c0c0c0"/>
<rect x="867" y="595" width="1" height="9" fill="#c0c0c0"/>
<rect x="875" y="591" width="1" height="13" fill="#c0c0c0"/>
<rect x="883" y="589" width="1" height="15" fill="#c0c0c0"/>
<rect x="891" y="588" width="1" height="16" fill="#c0c0c0"/>
<rect x="899" y="592" width="1" height="12" fill="#c0c0c0"/>
<rect x="907" y="597" width="1" height="7" fill="#c0c0c0"/>
<rect x="915" y="600" width="1" height="4" fill="#c0c0c0"/>
<rect x="923" y="603" width="1" height="1" fill="#c0c0c0"/>
<rect x="931" y="603" width="1" height="12" fill="#c0c0c0"/>
<rect x="939" y="603" width="1" height="19" fill="#c0c0c0"/>
<rect x="947" y="603" width="1" height="25" fill="#c0c0c0"/>
<rect x="955" y="603" width="1" height="28" fill="#c0c0c0"/>
<rect x="963" y="603" width="1" height="28" fill="#c0c0c0"/>
<rect x="971" y="603" width="1" height="27" fill="#c0c0c0"/>
<rect x="979" y="603" width="1" height="21" fill="#c0c0c0"/>
<rect x="987" y="603" width="1" height="17" fill="#c0c0c0"/>
<rect x="995" y="603" width="1" height="14" fill="#c0c0c0"/>
<rect x="1003" y="603" width="1" height="13" fill="#c0c0c0"/>
<rect x="1011" y="603" width="1" height="18" fill="#c0c0c0"/>
<rect x="1019" y="603" width="1" height="26" fill="#c0c0c0"/>
<rect x="1027" y="603" width="1" height="31" fill="#c0c0c0"/>
<rect x="1035" y="603" width="1" height="35" fill="#c0c0c0"/>
<rect x="1043" y="603" width="1" height="39" fill="#c0c0c0"/>
<rect x="1051" y="603" width="1" height="42" fill="#c0c0c0"/>
<rect x="1059" y="603" width="1" height="46" fill="#c0c0c0"/>
<rect x="1067" y="603" width="1" height="50" fill="#c0c0c0"/>
<rect x="1075" y="603" width="1" height="54" fill="#c0c0c0"/>
<rect x="1083" y="603" width="1" height="56" fill="#c0c0c0"/>
<rect x="1091" y="603" width="1" height="54" fill="#c0c0c0"/>
<rect x="1099" y="603" width="1" height="54" fill="#c0c0c0"/>
<rect x="1107" y="603" width="1" height="56" fill="#c0c0c0"/>
<rect x="1115" y="603" width="1" height="57" fill="#c0c0c0"/>
<clipPath id="c2"><rect x="3" y="564" width="1415" height="102"/></clipPath>
<g clip-path="url(#c2)">
<path d="M369 575h3v1h-3zM375 575h1v1h-1zM363 576h3v1h-3zM376 576h2v1h-2zM381 576h3v1h-3zM358 577h2v1h-2zM387 577h2v1h-2zM357 578h1v1h-1zM389 578h1v1h-1zM351 579h3v1h-3zM393 579h1v1h-1zM347 580h1v1h-1zM394 580h2v1h-2zM399 580h1v1h-1zM345 581h2v1h-2zM400 581h2v1h-2zM405 581h1v1h-1zM406 582h2v1h-2zM341 583h1v1h-1zM411 583h3v1h-3zM465 583h3v1h-3zM471 583h1v1h-1zM339 584h2v1h-2zM417 584h3v1h-3zM423 584h3v1h-3zM429 584h3v1h-3zM435 584h3v1h-3zM441 584h3v1h-3zM447 584h3v1h-3zM453 584h3v1h-3zM459 584h3v1h-3zM472 584h2v1h-2zM477 584h3v1h-3zM483 584h3v1h-3zM699 584h3v1h-3zM705 584h3v1h-3zM711 584h3v1h-3zM717 584h3v1h-3zM723 584h3v1h-3zM489 585h1v1h-1zM688 585h2v1h-2zM693 585h3v1h-3zM729 585h3v1h-3zM735 585h3v1h-3zM741 585h3v1h-3zM747 585h3v1h-3zM490 586h2v1h-2zM495 586h1v1h-1zM682 586h2v1h-2zM687 586h1v1h-1zM753 586h3v1h-3zM759 586h3v1h-3zM765 586h3v1h-3zM334 587h2v1h-2zM496 587h2v1h-2zM501 587h1v1h-1zM681 587h1v1h-1zM771 587h3v1h-3zM777 587h3v1h-3zM783 587h1v1h-1zM333 588h1v1h-1zM502 588h2v1h-2zM675 588h3v1h-3zM784 588h2v1h-2zM789 588h3v1h-3zM507 589h3v1h-3zM669 589h3v1h-3zM795 589h3v1h-3zM513 590h3v1h-3zM663 590h3v1h-3zM801 590h3v1h-3zM807 590h1v1h-1zM329 591h1v1h-1zM519 591h3v1h-3zM658 591h2v1h-2zM808 591h2v1h-2zM813 591h1v1h-1zM328 592h1v1h-1zM525 592h1v1h-1zM657 592h1v1h-1zM814 592h2v1h-2zM327 593h1v1h-1zM526 593h2v1h-2zM651 593h3v1h-3zM819 593h3v1h-3zM897 593h3v1h-3zM903 593h3v1h-3zM909 593h3v1h-3zM915 593h3v1h-3zM531 594h3v1h-3zM646 594h2v1h-2zM825 594h3v1h-3zM831 594h1v1h-1zM891 594h3v1h-3zM921 594h3v1h-3zM927 594h1v1h-1zM537 595h1v1h-1zM645 595h1v1h-1zM832 595h2v1h-2zM837 595h3v1h-3zM843 595h3v1h-3zM885 595h3v1h-3zM928 595h2v1h-2zM323 596h1v1h-1zM538 596h2v1h-2zM639 596h3v1h-3zM849 596h3v1h-3zM855 596h1v1h-1zM879 596h3v1h-3zM933 596h3v1h-3zM321 597h2v1h-2zM543 597h3v1h-3zM634 597h2v1h-2zM856 597h2v1h-2zM861 597h3v1h-3zM867 597h3v1h-3zM873 597h3v1h-3zM549 598h3v1h-3zM555 598h3v1h-3zM561 598h3v1h-3zM567 598h1v1h-1zM633 598h1v1h-1zM939 598h2v1h-2zM317 599h1v1h-1zM568 599h2v1h-2zM573 599h3v1h-3zM627 599h3v1h-3zM941 599h1v1h-1zM315 600h2v1h-2zM579 600h3v1h-3zM616 600h2v1h-2zM621 600h3v1h-3zM585 601h3v1h-3zM591 601h3v1h-3zM597 601h3v1h-3zM603 601h3v1h-3zM609 601h3v1h-3zM615 601h1v1h-1zM945 601h2v1h-2zM947 602h1v1h-1zM310 603h2v1h-2zM309 604h1v1h-1zM951 605h1v1h-1zM952 606h2v1h-2zM304 607h2v1h-2zM303 608h1v1h-1zM957 609h1v1h-1zM958 610h2v1h-2zM299 611h1v1h-1zM202 612h2v1h-2zM207 612h3v1h-3zM213 612h3v1h-3zM219 612h3v1h-3zM297 612h2v1h-2zM201 613h1v1h-1zM225 613h3v1h-3zM231 613h1v1h-1zM963 613h2v1h-2zM195 614h3v1h-3zM232 614h2v1h-2zM237 614h3v1h-3zM293 614h1v1h-1zM965 614h1v1h-1zM189 615h3v1h-3zM243 615h3v1h-3zM291 615h2v1h-2zM184 616h2v1h-2zM249 616h1v1h-1zM286 616h2v1h-2zM969 616h2v1h-2zM183 617h1v1h-1zM250 617h2v1h-2zM285 617h1v1h-1zM971 617h1v1h-1zM179 618h1v1h-1zM255 618h3v1h-3zM279 618h3v1h-3zM177 619h2v1h-2zM261 619h3v1h-3zM267 619h3v1h-3zM273 619h3v1h-3zM975 619h2v1h-2zM977 620h1v1h-1zM173 621h1v1h-1zM981 621h1v1h-1zM171 622h2v1h-2zM982 622h2v1h-2zM987 623h3v1h-3zM167 624h1v1h-1zM993 624h3v1h-3zM999 624h3v1h-3zM1005 624h3v1h-3zM1011 624h3v1h-3zM1017 624h3v1h-3zM1023 624h1v1h-1zM165 625h2v1h-2zM1024 625h2v1h-2zM1029 625h3v1h-3zM1035 625h3v1h-3zM1041 626h1v1h-1zM161 627h1v1h-1zM1042 627h2v1h-2zM1047 627h1v1h-1zM57 628h3v1h-3zM160 628h1v1h-1zM1048 628h2v1h-2zM51 629h3v1h-3zM63 629h3v1h-3zM159 629h1v1h-1zM1053 629h3v1h-3zM40 630h2v1h-2zM45 630h3v1h-3zM69 630h3v1h-3zM33 631h3v1h-3zM39 631h1v1h-1zM75 631h3v1h-3zM154 631h2v1h-2zM1059 631h1v1h-1zM27 632h3v1h-3zM81 632h1v1h-1zM153 632h1v1h-1zM1060 632h2v1h-2zM21 633h3v1h-3zM82 633h2v1h-2zM149 633h1v1h-1zM15 634h3v1h-3zM87 634h1v1h-1zM147 634h2v1h-2zM9 635h3v1h-3zM88 635h2v1h-2zM1065 635h2v1h-2zM3 636h3v1h-3zM143 636h1v1h-1zM1067 636h1v1h-1zM93 637h3v1h-3zM141 637h2v1h-2zM1071 638h1v1h-1zM99 639h3v1h-3zM135 639h3v1h-3zM1072 639h1v1h-1zM105 640h1v1h-1zM129 640h3v1h-3zM1073 640h1v1h-1zM106 641h2v1h-2zM111 641h3v1h-3zM117 641h3v1h-3zM123 641h3v1h-3zM1077 642h2v1h-2zM1079 643h1v1h-1zM1083 645h2v1h-2zM1085 646h1v1h-1zM1089 648h2v1h-2zM1091 649h1v1h-1zM1095 650h3v1h-3zM1101 652h3v1h-3zM1107 654h3v1h-3zM1113 655h1v1h-1zM1114 656h1v1h-1z" fill="#ff0000"/>
</g>
<rect x="3" y="708" width="1415" height="1" fill="none"/>
<path d="M4 708h3v1h-3zM10 708h3v1h-3zM16 708h3v1h-3zM22 708h3v1h-3zM28 708h3v1h-3zM34 708h3v1h-3zM40 708h3v1h-3zM46 708h3v1h-3zM52 708h3v1h-3zM58 708h3v1h-3zM64 708h3v1h-3zM70 708h3v1h-3zM76 708h3v1h-3zM82 708h3v1h-3zM88 708h3v1h-3zM94 708h3v1h-3zM100 708h3v1h-3zM106 708h3v1h-3zM112 708h3v1h-3zM118 708h3v1h-3zM124 708h3v1h-3zM130 708h3v1h-3zM136 708h3v1h-3zM142 708h3v1h-3zM148 708h3v1h-3zM154 708h3v1h-3zM160 708h3v1h-3zM166 708h3v1h-3zM172 708h3v1h-3zM178 708h3v1h-3zM184 708h3v1h-3zM190 708h3v1h-3zM196 708h3v1h-3zM202 708h3v1h-3zM208 708h3v1h-3zM214 708h3v1h-3zM220 708h3v1h-3zM226 708h3v1h-3zM232 708h3v1h-3zM238 708h3v1h-3zM244 708h3v1h-3zM250 708h3v1h-3zM256 708h3v1h-3zM262 708h3v1h-3zM268 708h3v1h-3zM274 708h3v1h-3zM280 708h3v1h-3zM286 708h3v1h-3zM292 708h3v1h-3zM298 708h3v1h-3zM304 708h3v1h-3zM310 708h3v1h-3zM316 708h3v1h-3zM322 708h3v1h-3zM328 708h3v1h-3zM334 708h3v1h-3zM340 708h3v1h-3zM346 708h3v1h-3zM352 708h3v1h-3zM358 708h3v1h-3zM364 708h3v1h-3zM370 708h3v1h-3zM376 708h3v1h-3zM382 708h3v1h-3zM388 708h3v1h-3zM394 708h3v1h-3zM400 708h3v1h-3zM406 708h3v1h-3zM412 708h3v1h-3zM418 708h3v1h-3zM424 708h3v1h-3zM430 708h3v1h-3zM436 708h3v1h-3zM442 708h3v1h-3zM448 708h3v1h-3zM454 708h3v1h-3zM460 708h3v1h-3zM466 708h3v1h-3zM472 708h3v1h-3zM478 708h3v1h-3zM484 708h3v1h-3zM490 708h3v1h-3zM496 708h3v1h-3zM502 708h3v1h-3zM508 708h3v1h-3zM514 708h3v1h-3zM520 708h3v1h-3zM526 708h3v1h-3zM532 708h3v1h-3zM538 708h3v1h-3zM544 708h3v1h-3zM550 708h3v1h-3zM556 708h3v1h-3zM562 708h3v1h-3zM568 708h3v1h-3zM574 708h3v1h-3zM580 708h3v1h-3zM586 708h3v1h-3zM592 708h3v1h-3zM598 708h3v1h-3zM604 708h3v1h-3zM610 708h3v1h-3zM616 708h3v1h-3zM622 708h3v1h-3zM628 708h3v1h-3zM634 708h3v1h-3zM640 708h3v1h-3zM646 708h3v1h-3zM652 708h3v1h-3zM658 708h3v1h-3zM664 708h3v1h-3zM670 708h3v1h-3zM676 708h3v1h-3zM682 708h3v1h-3zM688 708h3v1h-3zM694 708h3v1h-3zM700 708h3v1h-3zM706 708h3v1h-3zM712 708h3v1h-3zM718 708h3v1h-3zM724 708h3v1h-3zM730 708h3v1h-3zM736 708h3v1h-3zM742 708h3v1h-3zM748 708h3v1h-3zM754 708h3v1h-3zM760 708h3v1h-3zM766 708h3v1h-3zM772 708h3v1h-3zM778 708h3v1h-3zM784 708h3v1h-3zM790 708h3v1h-3zM796 708h3v1h-3zM802 708h3v1h-3zM808 708h3v1h-3zM814 708h3v1h-3zM820 708h3v1h-3zM826 708h3v1h-3zM832 708h3v1h-3zM838 708h3v1h-3zM844 708h3v1h-3zM850 708h3v1h-3zM856 708h3v1h-3zM862 708h3v1h-3zM868 708h3v1h-3zM874 708h3v1h-3zM880 708h3v1h-3zM886 708h3v1h-3zM892 708h3v1h-3zM898 708h3v1h-3zM904 708h3v1h-3zM910 708h3v1h-3zM916 708h3v1h-3zM922 708h3v1h-3zM928 708h3v1h-3zM934 708h3v1h-3zM940 708h3v1h-3zM946 708h3v1h-3zM952 708h3v1h-3zM958 708h3v1h-3zM964 708h3v1h-3zM970 708h3v1h-3zM976 708h3v1h-3zM982 708h3v1h-3zM988 708h3v1h-3zM994 708h3v1h-3zM1000 708h3v1h-3zM1006 708h3v1h-3zM1012 708h3v1h-3zM1018 708h3v1h-3zM1024 708h3v1h-3zM1030 708h3v1h-3zM1036 708h3v1h-3zM1042 708h3v1h-3zM1048 708h3v1h-3zM1054 708h3v1h-3zM1060 708h3v1h-3zM1066 708h3v1h-3zM1072 708h3v1h-3zM1078 708h3v1h-3zM1084 708h3v1h-3zM1090 708h3v1h-3zM1096 708h3v1h-3zM1102 708h3v1h-3zM1108 708h3v1h-3zM1114 708h3v1h-3zM1120 708h3v1h-3zM1126 708h3v1h-3zM1132 708h3v1h-3zM1138 708h3v1h-3zM1144 708h3v1h-3zM1150 708h3v1h-3zM1156 708h3v1h-3zM1162 708h3v1h-3zM1168 708h3v1h-3zM1174 708h3v1h-3zM1180 708h3v1h-3zM1186 708h3v1h-3zM1192 708h3v1h-3zM1198 708h3v1h-3zM1204 708h3v1h-3zM1210 708h3v1h-3zM1216 708h3v1h-3zM1222 708h3v1h-3zM1228 708h3v1h-3zM1234 708h3v1h-3zM1240 708h3v1h-3zM1246 708h3v1h-3zM1252 708h3v1h-3zM1258 708h3v1h-3zM1264 708h3v1h-3zM1270 708h3v1h-3zM1276 708h3v1h-3zM1282 708h3v1h-3zM1288 708h3v1h-3zM1294 708h3v1h-3zM1300 708h3v1h-3zM1306 708h3v1h-3zM1312 708h3v1h-3zM1318 708h3v1h-3zM1324 708h3v1h-3zM1330 708h3v1h-3zM1336 708h3v1h-3zM1342 708h3v1h-3zM1348 708h3v1h-3zM1354 708h3v1h-3zM1360 708h3v1h-3zM1366 708h3v1h-3zM1372 708h3v1h-3zM1378 708h3v1h-3zM1384 708h3v1h-3zM1390 708h3v1h-3zM1396 708h3v1h-3zM1402 708h3v1h-3zM1408 708h3v1h-3zM1414 708h3v1h-3z" fill="#c0c0c0"/>
<path d="M4 759h3v1h-3zM10 759h3v1h-3zM16 759h3v1h-3zM22 759h3v1h-3zM28 759h3v1h-3zM34 759h3v1h-3zM40 759h3v1h-3zM46 759h3v1h-3zM52 759h3v1h-3zM58 759h3v1h-3zM64 759h3v1h-3zM70 759h3v1h-3zM76 759h3v1h-3zM82 759h3v1h-3zM88 759h3v1h-3zM94 759h3v1h-3zM100 759h3v1h-3zM106 759h3v1h-3zM112 759h3v1h-3zM118 759h3v1h-3zM124 759h3v1h-3zM130 759h3v1h-3zM136 759h3v1h-3zM142 759h3v1h-3zM148 759h3v1h-3zM154 759h3v1h-3zM160 759h3v1h-3zM166 759h3v1h-3zM172 759h3v1h-3zM178 759h3v1h-3zM184 759h3v1h-3zM190 759h3v1h-3zM196 759h3v1h-3zM202 759h3v1h-3zM208 759h3v1h-3zM214 759h3v1h-3zM220 759h3v1h-3zM226 759h3v1h-3zM232 759h3v1h-3zM238 759h3v1h-3zM244 759h3v1h-3zM250 759h3v1h-3zM256 759h3v1h-3zM262 759h3v1h-3zM268 759h3v1h-3zM274 759h3v1h-3zM280 759h3v1h-3zM286 759h3v1h-3zM292 759h3v1h-3zM298 759h3v1h-3zM304 759h3v1h-3zM310 759h3v1h-3zM316 759h3v1h-3zM322 759h3v1h-3zM328 759h3v1h-3zM334 759h3v1h-3zM340 759h3v1h-3zM346 759h3v1h-3zM352 759h3v1h-3zM358 759h3v1h-3zM364 759h3v1h-3zM370 759h3v1h-3zM376 759h3v1h-3zM382 759h3v1h-3zM388 759h3v1h-3zM394 759h3v1h-3zM400 759h3v1h-3zM406 759h3v1h-3zM412 759h3v1h-3zM418 759h3v1h-3zM424 759h3v1h-3zM430 759h3v1h-3zM436 759h3v1h-3zM442 759h3v1h-3zM448 759h3v1h-3zM454 759h3v1h-3zM460 759h3v1h-3zM466 759h3v1h-3zM472 759h3v1h-3zM478 759h3v1h-3zM484 759h3v1h-3zM490 759h3v1h-3zM496 759h3v1h-3zM502 759h3v1h-3zM508 759h3v1h-3zM514 759h3v1h-3zM520 759h3v1h-3zM526 759h3v1h-3zM532 759h3v1h-3zM538 759h3v1h-3zM544 759h3v1h-3zM550 759h3v1h-3zM556 759h3v1h-3zM562 759h3v1h-3zM568 759h3v1h-3zM574 759h3v1h-3zM580 759h3v1h-3zM586 759h3v1h-3zM592 759h3v1h-3zM598 759h3v1h-3zM604 759h3v1h-3zM610 759h3v1h-3zM616 759h3v1h-3zM622 759h3v1h-3zM628 759h3v1h-3zM634 759h3v1h-3zM640 759h3v1h-3zM646 759h3v1h-3zM652 759h3v1h-3zM658 759h3v1h-3zM664 759h3v1h-3zM670 759h3v1h-3zM676 759h3v1h-3zM682 759h3v1h-3zM688 759h3v1h-3zM694 759h3v1h-3zM700 759h3v1h-3zM706 759h3v1h-3zM712 759h3v1h-3zM718 759h3v1h-3zM724 759h3v1h-3zM730 759h3v1h-3zM736 759h3v1h-3zM742 759h3v1h-3zM748 759h3v1h-3zM754 759h3v1h-3zM760 759h3v1h-3zM766 759h3v1h-3zM772 759h3v1h-3zM778 759h3v1h-3zM784 759h3v1h-3zM790 759h3v1h-3zM796 759h3v1h-3zM802 759h3v1h-3zM808 759h3v1h-3zM814 759h3v1h-3zM820 759h3v1h-3zM826 759h3v1h-3zM832 759h3v1h-3zM838 759h3v1h-3zM844 759h3v1h-3zM850 759h3v1h-3zM856 759h3v1h-3zM862 759h3v1h-3zM868 759h3v1h-3zM874 759h3v1h-3zM880 759h3v1h-3zM886 759h3v1h-3zM892 759h3v1h-3zM898 759h3v1h-3zM904 759h3v1h-3zM910 759h3v1h-3zM916 759h3v1h-3zM922 759h3v1h-3zM928 759h3v1h-3zM934 759h3v1h-3zM940 759h3v1h-3zM946 759h3v1h-3zM952 759h3v1h-3zM958 759h3v1h-3zM964 759h3v1h-3zM970 759h3v1h-3zM976 759h3v1h-3zM982 759h3v1h-3zM988 759h3v1h-3zM994 759h3v1h-3zM1000 759h3v1h-3zM1006 759h3v1h-3zM1012 759h3v1h-3zM1018 759h3v1h-3zM1024 759h3v1h-3zM1030 759h3v1h-3zM1036 759h3v1h-3zM1042 759h3v1h-3zM1048 759h3v1h-3zM1054 759h3v1h-3zM1060 759h3v1h-3zM1066 759h3v1h-3zM1072 759h3v1h-3zM1078 759h3v1h-3zM1084 759h3v1h-3zM1090 759h3v1h-3zM1096 759h3v1h-3zM1102 759h3v1h-3zM1108 759h3v1h-3zM1114 759h3v1h-3zM1120 759h3v1h-3zM1126 759h3v1h-3zM1132 759h3v1h-3zM1138 759h3v1h-3zM1144 759h3v1h-3zM1150 759h3v1h-3zM1156 759h3v1h-3zM1162 759h3v1h-3zM1168 759h3v1h-3zM1174 759h3v1h-3zM1180 759h3v1h-3zM1186 759h3v1h-3zM1192 759h3v1h-3zM1198 759h3v1h-3zM1204 759h3v1h-3zM1210 759h3v1h-3zM1216 759h3v1h-3zM1222 759h3v1h-3zM1228 759h3v1h-3zM1234 759h3v1h-3zM1240 759h3v1h-3zM1246 759h3v1h-3zM1252 759h3v1h-3zM1258 759h3v1h-3zM1264 759h3v1h-3zM1270 759h3v1h-3zM1276 759h3v1h-3zM1282 759h3v1h-3zM1288 759h3v1h-3zM1294 759h3v1h-3zM1300 759h3v1h-3zM1306 759h3v1h-3zM1312 759h3v1h-3zM1318 759h3v1h-3zM1324 759h3v1h-3zM1330 759h3v1h-3zM1336 759h3v1h-3zM1342 759h3v1h-3zM1348 759h3v1h-3zM1354 759h3v1h-3zM1360 759h3v1h-3zM1366 759h3v1h-3zM1372 759h3v1h-3zM1378 759h3v1h-3zM1384 759h3v1h-3zM1390 759h3v1h-3zM1396 759h3v1h-3zM1402 759h3v1h-3zM1408 759h3v1h-3zM1414 759h3v1h-3z" fill="#c0c0c0"/>
<path d="M299 712h9v1h-9zM298 713h1v1h-1zM308 713h2v1h-2zM297 714h1v1h-1zM310 714h2v1h-2zM627 714h2v1h-2zM296 715h1v1h-1zM312 715h1v1h-1zM626 715h1v1h-1zM629 715h3v1h-3zM294 716h2v1h-2zM313 716h2v1h-2zM320 716h5v1h-5zM625 716h1v1h-1zM632 716h2v1h-2zM293 717h1v1h-1zM315 717h5v1h-5zM325 717h2v1h-2zM624 717h1v1h-1zM634 717h3v1h-3zM874 717h3v1h-3zM292 718h1v1h-1zM327 718h2v1h-2zM623 718h1v1h-1zM637 718h2v1h-2zM872 718h2v1h-2zM877 718h3v1h-3zM291 719h1v1h-1zM329 719h2v1h-2zM418 719h2v1h-2zM622 719h1v1h-1zM639 719h2v1h-2zM869 719h3v1h-3zM880 719h2v1h-2zM289 720h2v1h-2zM331 720h1v1h-1zM414 720h4v1h-4zM420 720h2v1h-2zM450 720h2v1h-2zM621 720h1v1h-1zM641 720h2v1h-2zM648 720h6v1h-6zM867 720h2v1h-2zM882 720h10v1h-10zM287 721h2v1h-2zM332 721h2v1h-2zM411 721h3v1h-3zM422 721h2v1h-2zM446 721h4v1h-4zM452 721h1v2h-1zM620 721h1v1h-1zM643 721h5v1h-5zM654 721h4v1h-4zM865 721h2v1h-2zM891 721h1v1h-1zM285 722h2v1h-2zM334 722h1v1h-1zM409 722h2v1h-2zM424 722h1v1h-1zM443 722h3v1h-3zM619 722h1v1h-1zM658 722h2v1h-2zM683 722h1v1h-1zM863 722h2v1h-2zM892 722h1v2h-1zM282 723h3v1h-3zM335 723h1v1h-1zM408 723h1v1h-1zM425 723h2v1h-2zM441 723h2v1h-2zM453 723h1v2h-1zM618 723h1v2h-1zM660 723h1v2h-1zM681 723h2v1h-2zM684 723h1v1h-1zM861 723h2v1h-2zM267 724h3v1h-3zM280 724h2v1h-2zM336 724h2v1h-2zM406 724h2v1h-2zM427 724h2v1h-2zM440 724h1v1h-1zM680 724h1v1h-1zM685 724h1v1h-1zM699 724h2v1h-2zM720 724h6v1h-6zM859 724h2v1h-2zM893 724h1v2h-1zM266 725h1v2h-1zM270 725h4v1h-4zM277 725h3v1h-3zM338 725h1v1h-1zM404 725h2v1h-2zM429 725h3v1h-3zM438 725h2v1h-2zM454 725h1v1h-1zM617 725h1v2h-1zM661 725h1v1h-1zM678 725h2v1h-2zM686 725h1v1h-1zM698 725h1v1h-1zM701 725h2v1h-2zM714 725h6v1h-6zM726 725h4v1h-4zM755 725h2v1h-2zM858 725h1v1h-1zM115 726h1v1h-1zM274 726h3v1h-3zM339 726h1v1h-1zM403 726h1v1h-1zM432 726h2v1h-2zM436 726h2v1h-2zM455 726h1v2h-1zM662 726h1v2h-1zM676 726h2v1h-2zM687 726h1v1h-1zM696 726h2v1h-2zM703 726h2v1h-2zM712 726h2v1h-2zM730 726h2v1h-2zM753 726h2v1h-2zM757 726h3v1h-3zM827 726h1v1h-1zM857 726h1v1h-1zM894 726h1v2h-1zM114 727h1v2h-1zM116 727h2v1h-2zM138 727h2v1h-2zM265 727h1v2h-1zM340 727h1v1h-1zM402 727h1v2h-1zM434 727h2v1h-2zM507 727h2v1h-2zM616 727h1v1h-1zM675 727h1v1h-1zM688 727h1v1h-1zM695 727h1v1h-1zM705 727h2v1h-2zM709 727h3v1h-3zM732 727h1v1h-1zM752 727h1v1h-1zM760 727h2v1h-2zM826 727h1v1h-1zM828 727h1v1h-1zM856 727h1v1h-1zM118 728h2v1h-2zM136 728h2v1h-2zM140 728h1v1h-1zM341 728h1v1h-1zM362 728h14v1h-14zM456 728h1v1h-1zM505 728h2v1h-2zM509 728h2v1h-2zM602 728h2v1h-2zM615 728h1v2h-1zM663 728h1v1h-1zM674 728h1v1h-1zM689 728h1v1h-1zM694 728h1v1h-1zM707 728h2v1h-2zM733 728h1v1h-1zM750 728h2v1h-2zM762 728h3v1h-3zM778 728h3v1h-3zM824 728h2v1h-2zM829 728h1v1h-1zM855 728h1v2h-1zM895 728h1v2h-1zM113 729h1v2h-1zM120 729h1v1h-1zM133 729h3v1h-3zM141 729h1v2h-1zM163 729h1v1h-1zM264 729h1v2h-1zM342 729h2v1h-2zM358 729h4v1h-4zM376 729h6v1h-6zM401 729h1v1h-1zM457 729h1v2h-1zM503 729h2v1h-2zM511 729h2v1h-2zM547 729h1v1h-1zM598 729h4v1h-4zM604 729h1v1h-1zM664 729h1v2h-1zM673 729h1v1h-1zM690 729h1v1h-1zM692 729h2v1h-2zM734 729h1v1h-1zM748 729h2v1h-2zM765 729h3v1h-3zM776 729h2v1h-2zM781 729h2v1h-2zM823 729h1v1h-1zM830 729h2v1h-2zM121 730h2v1h-2zM128 730h5v1h-5zM161 730h2v1h-2zM164 730h2v1h-2zM344 730h1v1h-1zM354 730h4v1h-4zM382 730h4v1h-4zM400 730h1v1h-1zM501 730h2v1h-2zM513 730h2v1h-2zM546 730h1v1h-1zM548 730h1v1h-1zM571 730h3v1h-3zM594 730h4v1h-4zM605 730h1v1h-1zM614 730h1v1h-1zM672 730h1v1h-1zM691 730h1v1h-1zM735 730h1v1h-1zM747 730h1v1h-1zM768 730h2v1h-2zM773 730h3v1h-3zM783 730h2v1h-2zM822 730h1v1h-1zM832 730h1v1h-1zM854 730h1v1h-1zM896 730h1v2h-1zM979 730h5v1h-5zM112 731h1v1h-1zM123 731h5v1h-5zM142 731h1v1h-1zM159 731h2v1h-2zM166 731h2v1h-2zM263 731h1v2h-1zM345 731h1v1h-1zM352 731h2v1h-2zM386 731h2v1h-2zM399 731h1v2h-1zM458 731h1v2h-1zM498 731h3v1h-3zM515 731h1v1h-1zM545 731h1v1h-1zM549 731h1v1h-1zM570 731h1v1h-1zM574 731h4v1h-4zM592 731h2v1h-2zM606 731h2v1h-2zM613 731h1v2h-1zM665 731h1v1h-1zM670 731h2v1h-2zM736 731h1v1h-1zM745 731h2v1h-2zM770 731h3v1h-3zM785 731h2v1h-2zM792 731h5v1h-5zM820 731h2v1h-2zM833 731h1v1h-1zM853 731h1v1h-1zM978 731h1v2h-1zM984 731h12v1h-12zM3 732h2v1h-2zM111 732h1v2h-1zM143 732h1v1h-1zM157 732h2v1h-2zM168 732h1v1h-1zM346 732h1v1h-1zM349 732h3v1h-3zM388 732h2v1h-2zM496 732h2v1h-2zM516 732h1v1h-1zM544 732h1v1h-1zM550 732h2v1h-2zM568 732h2v1h-2zM578 732h6v1h-6zM589 732h3v1h-3zM608 732h1v1h-1zM666 732h1v2h-1zM669 732h1v1h-1zM737 732h1v1h-1zM743 732h2v1h-2zM787 732h5v1h-5zM797 732h2v1h-2zM819 732h1v1h-1zM834 732h1v1h-1zM852 732h1v1h-1zM897 732h1v2h-1zM996 732h2v1h-2zM5 733h3v1h-3zM18 733h2v1h-2zM144 733h1v1h-1zM155 733h2v1h-2zM169 733h2v1h-2zM262 733h1v2h-1zM347 733h2v1h-2zM390 733h1v1h-1zM398 733h1v1h-1zM459 733h9v1h-9zM493 733h3v1h-3zM517 733h1v1h-1zM543 733h1v2h-1zM552 733h1v1h-1zM567 733h1v1h-1zM584 733h5v1h-5zM609 733h1v1h-1zM612 733h1v2h-1zM668 733h1v1h-1zM738 733h1v1h-1zM741 733h2v1h-2zM799 733h2v1h-2zM818 733h1v1h-1zM835 733h17v1h-17zM977 733h1v2h-1zM998 733h1v1h-1zM8 734h2v1h-2zM14 734h4v1h-4zM19 734h1v1h-1zM110 734h1v1h-1zM145 734h1v2h-1zM153 734h2v1h-2zM171 734h3v1h-3zM391 734h1v1h-1zM397 734h1v1h-1zM468 734h2v1h-2zM483 734h10v1h-10zM518 734h1v1h-1zM553 734h1v1h-1zM566 734h1v1h-1zM610 734h1v1h-1zM667 734h1v1h-1zM739 734h2v1h-2zM801 734h2v1h-2zM817 734h1v1h-1zM898 734h1v2h-1zM999 734h1v1h-1zM10 735h4v1h-4zM20 735h1v2h-1zM109 735h1v2h-1zM151 735h2v1h-2zM174 735h4v1h-4zM261 735h1v2h-1zM392 735h2v1h-2zM396 735h1v2h-1zM470 735h2v1h-2zM481 735h2v1h-2zM519 735h1v1h-1zM542 735h1v1h-1zM554 735h1v1h-1zM564 735h2v1h-2zM611 735h1v1h-1zM803 735h2v1h-2zM816 735h1v1h-1zM976 735h1v2h-1zM1000 735h2v1h-2zM146 736h1v1h-1zM149 736h2v1h-2zM178 736h11v1h-11zM211 736h1v1h-1zM394 736h1v1h-1zM472 736h1v1h-1zM479 736h2v1h-2zM520 736h1v1h-1zM541 736h1v1h-1zM555 736h9v1h-9zM805 736h2v1h-2zM814 736h2v1h-2zM899 736h1v2h-1zM1002 736h1v1h-1zM21 737h1v2h-1zM108 737h1v2h-1zM147 737h2v1h-2zM189 737h3v1h-3zM210 737h1v1h-1zM212 737h1v1h-1zM260 737h1v2h-1zM395 737h1v1h-1zM473 737h2v1h-2zM477 737h2v1h-2zM521 737h1v1h-1zM530 737h6v1h-6zM540 737h1v1h-1zM807 737h2v1h-2zM813 737h1v1h-1zM975 737h1v1h-1zM1003 737h1v1h-1zM192 738h2v1h-2zM209 738h1v1h-1zM213 738h1v2h-1zM475 738h2v1h-2zM522 738h1v1h-1zM526 738h4v1h-4zM536 738h4v1h-4zM809 738h2v1h-2zM812 738h1v1h-1zM900 738h1v1h-1zM974 738h1v2h-1zM1004 738h1v2h-1zM22 739h1v2h-1zM107 739h1v1h-1zM194 739h2v1h-2zM208 739h1v1h-1zM235 739h3v1h-3zM259 739h1v2h-1zM523 739h3v1h-3zM811 739h1v1h-1zM901 739h1v1h-1zM915 739h1v1h-1zM106 740h1v2h-1zM196 740h2v1h-2zM207 740h1v1h-1zM214 740h1v1h-1zM234 740h1v1h-1zM238 740h4v1h-4zM258 740h1v1h-1zM902 740h1v1h-1zM914 740h1v1h-1zM916 740h1v1h-1zM973 740h1v2h-1zM1005 740h1v2h-1zM23 741h1v2h-1zM198 741h2v1h-2zM206 741h1v1h-1zM215 741h1v1h-1zM233 741h1v1h-1zM242 741h4v1h-4zM256 741h2v1h-2zM903 741h1v1h-1zM912 741h2v1h-2zM917 741h1v1h-1zM48 742h4v1h-4zM105 742h1v2h-1zM200 742h1v1h-1zM205 742h1v1h-1zM216 742h1v1h-1zM232 742h1v1h-1zM246 742h4v1h-4zM253 742h3v1h-3zM904 742h1v1h-1zM911 742h1v1h-1zM918 742h1v1h-1zM972 742h1v2h-1zM1006 742h1v1h-1zM24 743h1v2h-1zM43 743h5v1h-5zM52 743h1v2h-1zM201 743h2v1h-2zM204 743h1v1h-1zM217 743h1v2h-1zM230 743h2v1h-2zM250 743h3v1h-3zM905 743h1v1h-1zM910 743h1v1h-1zM919 743h1v2h-1zM963 743h5v1h-5zM1007 743h1v2h-1zM42 744h1v1h-1zM104 744h1v2h-1zM203 744h1v1h-1zM229 744h1v1h-1zM906 744h1v1h-1zM908 744h2v1h-2zM962 744h1v2h-1zM968 744h4v1h-4zM25 745h1v2h-1zM41 745h1v1h-1zM53 745h1v2h-1zM218 745h1v1h-1zM228 745h1v1h-1zM907 745h1v1h-1zM920 745h1v1h-1zM1008 745h1v1h-1zM40 746h1v1h-1zM103 746h1v1h-1zM219 746h9v1h-9zM921 746h1v1h-1zM961 746h1v1h-1zM1009 746h1v2h-1zM26 747h1v2h-1zM39 747h1v1h-1zM54 747h1v1h-1zM102 747h1v2h-1zM922 747h1v1h-1zM960 747h1v1h-1zM38 748h1v1h-1zM55 748h1v2h-1zM923 748h1v1h-1zM959 748h1v2h-1zM1010 748h1v2h-1zM27 749h1v2h-1zM37 749h1v1h-1zM101 749h1v2h-1zM924 749h1v1h-1zM28 750h4v1h-4zM36 750h1v1h-1zM56 750h1v1h-1zM925 750h1v1h-1zM958 750h1v1h-1zM1011 750h1v1h-1zM32 751h4v1h-4zM57 751h1v2h-1zM100 751h1v2h-1zM926 751h1v1h-1zM957 751h1v1h-1zM1012 751h1v1h-1zM927 752h1v2h-1zM956 752h1v2h-1zM1013 752h1v1h-1zM58 753h1v2h-1zM98 753h2v1h-2zM1014 753h2v1h-2zM1027 753h5v1h-5zM1091 753h2v1h-2zM94 754h4v1h-4zM928 754h1v1h-1zM954 754h2v1h-2zM1016 754h1v1h-1zM1025 754h2v1h-2zM1032 754h8v1h-8zM1090 754h1v1h-1zM1093 754h3v1h-3zM59 755h3v1h-3zM90 755h4v1h-4zM929 755h1v1h-1zM952 755h2v1h-2zM1017 755h1v1h-1zM1023 755h2v1h-2zM1040 755h8v1h-8zM1089 755h1v1h-1zM1096 755h2v1h-2zM62 756h4v1h-4zM88 756h2v1h-2zM930 756h1v1h-1zM949 756h3v1h-3zM1018 756h1v1h-1zM1021 756h2v1h-2zM1048 756h4v1h-4zM1088 756h1v1h-1zM1098 756h3v1h-3zM66 757h3v1h-3zM85 757h3v1h-3zM931 757h18v1h-18zM1019 757h2v1h-2zM1052 757h2v1h-2zM1087 757h1v2h-1zM1101 757h2v1h-2zM69 758h3v1h-3zM82 758h3v1h-3zM1054 758h2v1h-2zM1103 758h2v1h-2zM72 759h2v1h-2zM78 759h4v1h-4zM1056 759h1v1h-1zM1086 759h1v1h-1zM1105 759h2v1h-2zM74 760h4v1h-4zM1057 760h2v1h-2zM1085 760h1v1h-1zM1107 760h8v1h-8zM1059 761h3v1h-3zM1084 761h1v1h-1zM1062 762h4v1h-4zM1082 762h2v1h-2zM1066 763h6v1h-6zM1078 763h4v1h-4zM1072 764h6v1h-6z" fill="#1e90ff"/>
<rect x="1419" y="30" width="2" height="1" fill="#000"/>
<rect x="1419" y="63" width="2" height="1" fill="#000"/>
<rect x="1419" y="96" width="2" height="1" fill="#000"/>
<rect x="1419" y="129" width="2" height="1" fill="#000"/>
<rect x="1419" y="162" width="2" height="1" fill="#000"/>
<rect x="1419" y="195" width="2" height="1" fill="#000"/>
<rect x="1419" y="228" width="2" height="1" fill="#000"/>
<rect x="1419" y="261" width="2" height="1" fill="#000"/>
<rect x="1419" y="294" width="2" height="1" fill="#000"/>
<rect x="1419" y="327" width="2" height="1" fill="#000"/>
<rect x="1419" y="360" width="2" height="1" fill="#000"/>
<rect x="1419" y="393" width="2" height="1" fill="#000"/>
<rect x="1419" y="426" width="2" height="1" fill="#000"/>
<rect x="1419" y="459" width="2" height="1" fill="#000"/>
<rect x="1419" y="492" width="2" height="1" fill="#000"/>
<rect x="1419" y="525" width="2" height="1" fill="#000"/>
<rect x="1419" y="558" width="2" height="1" fill="#000"/>
<rect x="1419" y="565" width="2" height="1" fill="#000"/>
<rect x="1419" y="603" width="2" height="1" fill="#000"/>
<rect x="1419" y="665" width="2" height="1" fill="#000"/>
<rect x="1419" y="670" width="2" height="1" fill="#000"/>
<rect x="1419" y="797" width="2" height="1" fill="#000"/>
<rect x="3" y="799" width="1" height="3" fill="#000"/>
<rect x="67" y="799" width="1" height="3" fill="#000"/>
<rect x="131" y="799" width="1" height="3" fill="#000"/>
<rect x="195" y="799" width="1" height="3" fill="#000"/>
<rect x="259" y="799" width="1" height="3" fill="#000"/>
<rect x="323" y="799" width="1" height="3" fill="#000"/>
<rect x="387" y="799" width="1" height="3" fill="#000"/>
<rect x="451" y="799" width="1" height="3" fill="#000"/>
<rect x="515" y="799" width="1" height="3" fill="#000"/>
<rect x="579" y="799" width="1" height="3" fill="#000"/>
<rect x="643" y="799" width="1" height="3" fill="#000"/>
<rect x="707" y="799" width="1" height="3" fill="#000"/>
<rect x="771" y="799" width="1" height="3" fill="#000"/>
<rect x="835" y="799" width="1" height="3" fill="#000"/>
<rect x="899" y="799" width="1" height="3" fill="#000"/>
<rect x="963" y="799" width="1" height="3" fill="#000"/>
<rect x="1027" y="799" width="1" height="3" fill="#000"/>
<rect x="1091" y="799" width="1" height="3" fill="#000"/>
<rect x="1420" y="541" width="41" height="11" fill="#000"/>
<rect x="1129" y="23" width="9" height="1" fill="#c0c0c0"/>
<rect x="1130" y="24" width="7" height="1" fill="#c0c0c0"/>
<rect x="1131" y="25" width="5" height="1" fill="#c0c0c0"/>
<rect x="1132" y="26" width="3" height="1" fill="#c0c0c0"/>
<rect x="1133" y="27" width="1" height="1" fill="#c0c0c0"/>
<rect x="9" y="29" width="1" height="1" fill="#000"/>
<rect x="8" y="30" width="3" height="1" fill="#000"/>
<rect x="7" y="31" width="5" height="1" fill="#000"/>
<rect x="6" y="32" width="7" height="1" fill="#000"/>
</svg>
<div class="t" style="left:1424.5px;top:26px;letter-spacing:-0.129px;">1.35830</div>
<div class="t" style="left:1424.5px;top:59px;letter-spacing:-0.129px;">1.35500</div>
<div class="t" style="left:1424.5px;top:92px;letter-spacing:-0.129px;">1.35160</div>
<div class="t" style="left:1424.5px;top:125px;letter-spacing:-0.129px;">1.34820</div>
<div class="t" style="left:1424.5px;top:158px;letter-spacing:-0.129px;">1.34490</div>
<div class="t" style="left:1424.5px;top:191px;letter-spacing:-0.129px;">1.34150</div>
<div class="t" style="left:1424.5px;top:224px;letter-spacing:-0.129px;">1.33810</div>
<div class="t" style="left:1424.5px;top:257px;letter-spacing:-0.129px;">1.33480</div>
<div class="t" style="left:1424.5px;top:290px;letter-spacing:-0.129px;">1.33140</div>
<div class="t" style="left:1424.5px;top:323px;letter-spacing:-0.129px;">1.32800</div>
<div class="t" style="left:1424.5px;top:356px;letter-spacing:-0.129px;">1.32470</div>
<div class="t" style="left:1424.5px;top:389px;letter-spacing:-0.129px;">1.32130</div>
<div class="t" style="left:1424.5px;top:422px;letter-spacing:-0.129px;">1.31790</div>
<div class="t" style="left:1424.5px;top:455px;letter-spacing:-0.129px;">1.31460</div>
<div class="t" style="left:1424.5px;top:488px;letter-spacing:-0.129px;">1.31120</div>
<div class="t" style="left:1424.5px;top:521px;letter-spacing:-0.129px;">1.30780</div>
<div class="t" style="left:1424.5px;top:554px;letter-spacing:-0.129px;">1.30450</div>
<div class="t" style="left:1424.5px;top:542px;letter-spacing:-0.129px;color:#fff">1.30571</div>
<div class="t" style="left:1422.3px;top:566px;letter-spacing:-0.146px;">0.005481</div>
<div class="t" style="left:1422.3px;top:599px;letter-spacing:0.059px;">0.00</div>
<div class="t" style="left:1422.3px;top:655px;letter-spacing:-0.041px;">-0.0089</div>
<div class="t" style="left:1422.3px;top:671px;letter-spacing:-0.226px;">100</div>
<div class="t" style="left:1421.5px;top:704px;letter-spacing:-0.301px;">70</div>
<div class="t" style="left:1421.5px;top:755px;letter-spacing:-0.301px;">30</div>
<div class="t" style="left:1422.3px;top:787px;letter-spacing:0.000px;">0</div>
<div class="t" style="left:18.7px;top:26px;letter-spacing:0.640px;">USDCAD-,Daily</div>
<div class="t" style="left:93.4px;top:26px;letter-spacing:-0.053px;">1.30566 1.30598 1.30548 1.30571</div>
<div class="t" style="left:7.5px;top:568px;letter-spacing:0.112px;">MACD(12,26,9) -0.008247 -0.007541</div>
<div class="t" style="left:7.3px;top:673px;letter-spacing:0.135px;">RSI(14) 29.4029</div>
<div class="t" style="left:1.8px;top:803px;letter-spacing:0.243px;">22 Jan 2019</div>
<div class="t" style="left:65.8px;top:803px;letter-spacing:0.243px;">31 Jan 2019</div>
<div class="t" style="left:129.8px;top:803px;letter-spacing:0.252px;">10 Feb 2019</div>
<div class="t" style="left:193.8px;top:803px;letter-spacing:0.252px;">19 Feb 2019</div>
<div class="t" style="left:257.8px;top:803px;letter-spacing:0.252px;">28 Feb 2019</div>
<div class="t" style="left:321.8px;top:803px;letter-spacing:0.257px;">10 Mar 2019</div>
<div class="t" style="left:385.8px;top:803px;letter-spacing:0.257px;">19 Mar 2019</div>
<div class="t" style="left:449.8px;top:803px;letter-spacing:0.257px;">28 Mar 2019</div>
<div class="t" style="left:513.8px;top:803px;letter-spacing:0.249px;">7 Apr 2019</div>
<div class="t" style="left:577.8px;top:803px;letter-spacing:0.250px;">16 Apr 2019</div>
<div class="t" style="left:641.8px;top:803px;letter-spacing:0.250px;">26 Apr 2019</div>
<div class="t" style="left:705.8px;top:803px;letter-spacing:0.265px;">6 May 2019</div>
<div class="t" style="left:769.8px;top:803px;letter-spacing:0.264px;">15 May 2019</div>
<div class="t" style="left:833.8px;top:803px;letter-spacing:0.264px;">24 May 2019</div>
<div class="t" style="left:897.8px;top:803px;letter-spacing:0.242px;">3 Jun 2019</div>
<div class="t" style="left:961.8px;top:803px;letter-spacing:0.243px;">12 Jun 2019</div>
<div class="t" style="left:1025.8px;top:803px;letter-spacing:0.243px;">21 Jun 2019</div>
<div class="t" style="left:1089.8px;top:803px;letter-spacing:0.226px;">1 Jul 2019</div>
<div class="t" style="left:5.3px;top:2px;letter-spacing:0.920px;color:#2a2a2a;transform:scaleX(1.12);transform-origin:0 0;font-size:9.7px;">H4</div>
<div class="t" style="left:34.2px;top:2px;letter-spacing:-0.308px;color:#2a2a2a;transform:scaleX(1.12);transform-origin:0 0;font-size:9.7px;">D1</div>
<div class="t" style="left:61.6px;top:2px;letter-spacing:0.105px;color:#2a2a2a;transform:scaleX(1.12);transform-origin:0 0;font-size:9.7px;">W1</div>
<div class="t" style="left:88.4px;top:2px;letter-spacing:0.585px;color:#2a2a2a;transform:scaleX(1.12);transform-origin:0 0;font-size:9.7px;">MN</div>

<div class="abs" style="left:6px;top:42px;width:52px;height:24px;background:linear-gradient(#f64e4e,#e03636)"></div>
<div class="abs" style="left:173px;top:42px;width:52px;height:24px;background:linear-gradient(#f64e4e,#e03636)"></div>
<div class="abs" style="left:6px;top:42px;width:52px;height:1px;background:#d23434"></div>
<div class="abs" style="left:173px;top:42px;width:52px;height:1px;background:#d23434"></div>
<div class="abs" style="left:6px;top:66px;width:109px;height:40px;background:linear-gradient(#dc3030,#ab0101)"></div>
<div class="abs" style="left:117px;top:66px;width:108px;height:40px;background:linear-gradient(#dc3030,#ab0101)"></div>
<div class="abs" style="left:58px;top:66px;width:57px;height:1px;background:#c02424"></div>
<div class="abs" style="left:117px;top:66px;width:56px;height:1px;background:#c02424"></div>
<div class="abs" style="left:10px;top:65px;width:44px;height:1px;background:#b01818"></div>
<div class="abs" style="left:10px;top:66px;width:44px;height:1px;background:#f28a8a"></div>
<div class="abs" style="left:177px;top:65px;width:44px;height:1px;background:#b01818"></div>
<div class="abs" style="left:177px;top:66px;width:44px;height:1px;background:#f28a8a"></div>
<div class="abs" style="left:60px;top:42px;width:109px;height:20px;border:1px solid #adb0b6;background:#fff;box-sizing:content-box"></div>
<div class="abs" style="left:61px;top:43px;width:20px;height:20px;background:linear-gradient(#f2f2f2 0%,#e6e6e6 48%,#d2d2d2 52%,#dadada 100%);border-right:1px solid #adb0b6"></div>
<div class="abs" style="left:149px;top:43px;width:20px;height:20px;background:linear-gradient(#f2f2f2 0%,#e6e6e6 48%,#d2d2d2 52%,#dadada 100%);border-left:1px solid #adb0b6"></div>
<div class="abs" style="left:68px;top:51px;width:5px;height:1px;background:#4a60b8"></div><div class="abs" style="left:69px;top:52px;width:3px;height:1px;background:#4a60b8"></div><div class="abs" style="left:70px;top:53px;width:1px;height:1px;background:#4a60b8"></div>
<div class="abs" style="left:159px;top:50px;width:1px;height:1px;background:#4a60b8"></div><div class="abs" style="left:158px;top:51px;width:3px;height:1px;background:#4a60b8"></div><div class="abs" style="left:157px;top:52px;width:5px;height:1px;background:#4a60b8"></div>
<div class="abs" style="left:17.8px;top:46px;font-size:11.5px;letter-spacing:-0.45px;line-height:16px;color:#fff">SELL</div>
<div class="abs" style="left:186.7px;top:46px;font-size:11.5px;letter-spacing:-0.2px;line-height:16px;color:#fff">BUY</div>
<div class="abs" style="left:100px;top:45px;width:46px;text-align:right;font-size:12px;line-height:16px;color:#101030">1.00</div>
<div class="abs" style="left:26px;top:86.2px;font-size:12.5px;line-height:12px;font-weight:bold;color:#fff">1.30</div>
<div class="abs" style="left:136px;top:86.2px;font-size:12.5px;line-height:12px;font-weight:bold;color:#fff">1.30</div>
<div class="abs" style="left:53.6px;top:65.8px;font-size:35.5px;line-height:38px;letter-spacing:-3.8px;color:#fff">57</div>
<div class="abs" style="left:164.6px;top:65.8px;font-size:35.5px;line-height:38px;letter-spacing:-3.8px;color:#fff">59</div>
<div class="abs" style="left:93px;top:70.5px;font-size:12px;line-height:12px;font-weight:bold;color:#fff">1</div>
<div class="abs" style="left:203.6px;top:70.5px;font-size:12px;line-height:12px;font-weight:bold;color:#fff">2</div>

</body></html>
